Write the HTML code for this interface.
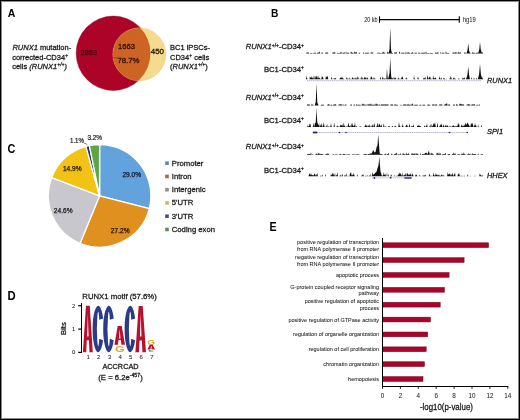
<!DOCTYPE html>
<html><head><meta charset="utf-8"><style>
html,body{margin:0;padding:0;background:#fff;width:520px;height:420px;overflow:hidden}
svg{display:block;will-change:transform}
text{font-family:"Liberation Sans", sans-serif}
.k{stroke:#1a1a1a;stroke-width:.28px}
</style></head><body>
<svg width="520" height="420" viewBox="0 0 520 420">
<rect width="520" height="420" fill="#fff"/>
<rect x="0.5" y="0.5" width="519" height="419" fill="none" stroke="#000" stroke-width="1"/>
<rect x="1.5" y="1.5" width="517" height="417" fill="none" stroke="#000" stroke-opacity="0.45" stroke-width="1"/>
<text transform="translate(7.78,16.8) scale(0.97,1)" font-size="10.9" font-weight="bold" fill="#000">A</text>
<text transform="translate(271.0,17.2) scale(0.87,1)" font-size="11.8" font-weight="bold" fill="#000">B</text>
<text transform="translate(7.6,152.5) scale(0.905,1)" font-size="12.0" font-weight="bold" fill="#000">C</text>
<text transform="translate(7.5,300.2) scale(0.95,1)" font-size="11.9" font-weight="bold" fill="#000">D</text>
<text transform="translate(269.5,230.6) scale(0.865,1)" font-size="12.4" font-weight="bold" fill="#000">E</text>
<circle cx="113.3" cy="53.25" r="37.15" fill="#AD0329" stroke="#8a0020" stroke-width="0.5"/>
<circle cx="139.3" cy="54.3" r="26.4" fill="#F4DB8E" stroke="#e8c070" stroke-width="0.5"/>
<clipPath id="cr"><circle cx="113.3" cy="53.25" r="37.15"/></clipPath>
<circle cx="139.3" cy="54.3" r="26.4" fill="#CE6424" clip-path="url(#cr)"/>
<line x1="113" y1="57.8" x2="118" y2="57.8" stroke="#5a2a10" stroke-width="0.5"/>
<text x="80.5" y="55.4" font-size="7.5" text-anchor="start" font-weight="normal" font-style="normal" fill="#480010" stroke="#480010" stroke-width="0.3" >2863</text>
<text x="126.5" y="48.8" font-size="7.6" text-anchor="middle" font-weight="normal" font-style="normal" fill="#301000" stroke="#301000" stroke-width="0.3" >1663</text>
<text x="128.5" y="63.4" font-size="7.8" text-anchor="middle" font-weight="normal" font-style="normal" fill="#301000" stroke="#301000" stroke-width="0.3" >78.7%</text>
<text x="150.8" y="53.6" font-size="7.9" text-anchor="start" font-weight="normal" font-style="normal" fill="#241800" stroke="#241800" stroke-width="0.3" >450</text>
<text class="k" x="12.4" y="50.4" font-size="7.5" fill="#1a1a1a"><tspan font-style="italic">RUNX1</tspan> mutation-</text>
<text class="k" x="12.2" y="59.7" font-size="7.5" fill="#1a1a1a">corrected-CD34<tspan font-size="5.10" dy="-2.8">+</tspan></text>
<text class="k" x="12.2" y="68.9" font-size="7.5" fill="#1a1a1a">cells <tspan font-style="italic">(RUNX1</tspan><tspan font-style="italic" font-size="5.10" dy="-2.8">+/+</tspan><tspan font-style="italic" dy="2.8">)</tspan></text>
<text class="k" x="170" y="50.4" font-size="7.5" fill="#1a1a1a">BC1 iPSCs-</text>
<text class="k" x="170" y="59.7" font-size="7.5" fill="#1a1a1a">CD34<tspan font-size="5.10" dy="-2.8">+</tspan><tspan dy="2.8"> cells</tspan></text>
<text class="k" x="170" y="68.9" font-size="7.5" fill="#1a1a1a">(<tspan font-style="italic">RUNX1</tspan><tspan font-style="italic" font-size="5.10" dy="-2.8">+/+</tspan><tspan dy="2.8">)</tspan></text>
<text x="364.2" y="21.9" font-size="6.3" text-anchor="start" font-weight="normal" font-style="normal" fill="#1a1a1a" stroke="#1a1a1a" stroke-width="0.04" textLength="13.5" lengthAdjust="spacingAndGlyphs">20 kb</text>
<text x="462.8" y="21.6" font-size="6.3" text-anchor="start" font-weight="normal" font-style="normal" fill="#1a1a1a" stroke="#1a1a1a" stroke-width="0.04" textLength="13" lengthAdjust="spacingAndGlyphs">hg19</text>
<line x1="379.5" y1="19.6" x2="459.3" y2="19.6" stroke="#000" stroke-width="1.2"/>
<line x1="379.5" y1="16.3" x2="379.5" y2="22.8" stroke="#000" stroke-width="1.1"/>
<line x1="459.3" y1="16.3" x2="459.3" y2="22.8" stroke="#000" stroke-width="1.1"/>
<text class="k" x="304" y="49.3" font-size="7.7" text-anchor="end" fill="#1a1a1a"><tspan font-style="italic">RUNX1</tspan><tspan font-size="4.95" dy="-2.7">+/+</tspan><tspan dy="2.7">-CD34</tspan><tspan font-size="4.95" dy="-2.7">+</tspan></text>
<text class="k" x="304" y="71.9" font-size="7.7" text-anchor="end" fill="#1a1a1a">BC1-CD34<tspan font-size="4.95" dy="-2.7">+</tspan></text>
<text class="k" x="304" y="99.7" font-size="7.7" text-anchor="end" fill="#1a1a1a"><tspan font-style="italic">RUNX1</tspan><tspan font-size="4.95" dy="-2.7">+/+</tspan><tspan dy="2.7">-CD34</tspan><tspan font-size="4.95" dy="-2.7">+</tspan></text>
<text class="k" x="304" y="122.8" font-size="7.7" text-anchor="end" fill="#1a1a1a">BC1-CD34<tspan font-size="4.95" dy="-2.7">+</tspan></text>
<text class="k" x="304" y="149.3" font-size="7.7" text-anchor="end" fill="#1a1a1a"><tspan font-style="italic">RUNX1</tspan><tspan font-size="4.95" dy="-2.7">+/+</tspan><tspan dy="2.7">-CD34</tspan><tspan font-size="4.95" dy="-2.7">+</tspan></text>
<text class="k" x="304" y="172.8" font-size="7.7" text-anchor="end" fill="#1a1a1a">BC1-CD34<tspan font-size="4.95" dy="-2.7">+</tspan></text>
<text x="487" y="83.3" font-size="7.4" text-anchor="start" font-weight="normal" font-style="italic" fill="#1a1a1a" stroke="#1a1a1a" stroke-width="0.28" >RUNX1</text>
<text x="487" y="133.8" font-size="7.4" text-anchor="start" font-weight="normal" font-style="italic" fill="#1a1a1a" stroke="#1a1a1a" stroke-width="0.28" >SPI1</text>
<text x="487" y="178" font-size="7.4" text-anchor="start" font-weight="normal" font-style="italic" fill="#1a1a1a" stroke="#1a1a1a" stroke-width="0.28" >HHEX</text>
<path d="M306,53.5 L306.00,53.50 L306.25,53.50 L306.50,52.56 L306.75,52.56 L307.00,52.56 L307.25,52.56 L307.50,52.56 L307.75,52.56 L308.00,52.56 L308.25,52.56 L308.50,52.56 L308.75,52.56 L309.00,53.50 L309.25,53.50 L309.50,53.50 L309.75,53.50 L310.00,53.50 L310.25,52.93 L310.50,52.93 L310.75,52.93 L311.00,52.93 L311.25,52.93 L311.50,52.93 L311.75,52.93 L312.00,52.93 L312.25,52.93 L312.50,53.50 L312.75,53.50 L313.00,53.50 L313.25,53.50 L313.50,52.85 L313.75,52.85 L314.00,52.85 L314.25,52.85 L314.50,52.85 L314.75,52.85 L315.00,52.85 L315.25,52.85 L315.50,52.85 L315.75,52.85 L316.00,53.50 L316.25,53.50 L316.50,53.50 L316.75,53.50 L317.00,52.82 L317.25,52.82 L317.50,52.82 L317.75,52.82 L318.00,52.82 L318.25,52.82 L318.50,52.63 L318.75,52.16 L319.00,52.44 L319.25,52.47 L319.50,51.59 L319.75,51.77 L320.00,52.65 L320.25,53.50 L320.50,53.50 L320.75,53.50 L321.00,53.50 L321.25,53.50 L321.50,52.54 L321.75,52.54 L322.00,52.54 L322.25,52.54 L322.50,52.54 L322.75,52.54 L323.00,53.50 L323.25,53.50 L323.50,53.50 L323.75,53.50 L324.00,53.50 L324.25,53.50 L324.50,53.50 L324.75,53.50 L325.00,53.50 L325.25,52.65 L325.50,52.65 L325.75,52.65 L326.00,52.65 L326.25,52.65 L326.50,52.65 L326.75,51.75 L327.00,52.42 L327.25,52.81 L327.50,52.37 L327.75,52.46 L328.00,52.90 L328.25,53.33 L328.50,53.50 L328.75,53.50 L329.00,53.50 L329.25,53.50 L329.50,53.50 L329.75,53.50 L330.00,53.50 L330.25,53.50 L330.50,53.50 L330.75,53.50 L331.00,53.50 L331.25,53.50 L331.50,53.50 L331.75,53.50 L332.00,53.50 L332.25,53.50 L332.50,52.59 L332.75,52.59 L333.00,52.59 L333.25,52.59 L333.50,52.59 L333.75,52.59 L334.00,52.59 L334.25,52.59 L334.50,52.55 L334.75,52.03 L335.00,52.34 L335.25,52.86 L335.50,53.38 L335.75,53.50 L336.00,53.50 L336.25,53.50 L336.50,53.50 L336.75,53.50 L337.00,53.50 L337.25,52.93 L337.50,52.93 L337.75,52.93 L338.00,52.93 L338.25,52.93 L338.50,52.93 L338.75,52.93 L339.00,52.93 L339.25,52.93 L339.50,52.93 L339.75,52.93 L340.00,53.32 L340.25,52.10 L340.50,51.85 L340.75,53.08 L341.00,52.23 L341.25,51.35 L341.50,52.82 L341.75,53.50 L342.00,53.50 L342.25,53.50 L342.50,52.66 L342.75,52.66 L343.00,52.66 L343.25,52.66 L343.50,52.66 L343.75,52.66 L344.00,52.66 L344.25,52.50 L344.50,52.35 L344.75,52.66 L345.00,53.50 L345.25,53.50 L345.50,53.27 L345.75,52.15 L346.00,51.02 L346.25,52.15 L346.50,53.27 L346.75,53.50 L347.00,52.74 L347.25,52.74 L347.50,52.74 L347.75,52.74 L348.00,52.74 L348.25,52.74 L348.50,52.74 L348.75,52.74 L349.00,52.74 L349.25,53.50 L349.50,53.50 L349.75,53.50 L350.00,53.50 L350.25,53.50 L350.50,52.91 L350.75,51.64 L351.00,52.40 L351.25,52.66 L351.50,51.42 L351.75,51.67 L352.00,52.74 L352.25,52.74 L352.50,52.74 L352.75,52.74 L353.00,52.74 L353.25,52.74 L353.50,53.50 L353.75,53.50 L354.00,52.55 L354.25,52.55 L354.50,51.97 L354.75,51.18 L355.00,51.65 L355.25,52.44 L355.50,52.55 L355.75,52.55 L356.00,52.55 L356.25,52.35 L356.50,52.23 L356.75,52.55 L357.00,52.55 L357.25,53.50 L357.50,53.50 L357.75,53.50 L358.00,53.50 L358.25,53.50 L358.50,53.50 L358.75,52.74 L359.00,52.74 L359.25,52.74 L359.50,52.74 L359.75,52.74 L360.00,52.74 L360.25,53.50 L360.50,53.50 L360.75,53.50 L361.00,53.50 L361.25,53.50 L361.50,53.50 L361.75,53.50 L362.00,53.50 L362.25,53.50 L362.50,53.50 L362.75,53.50 L363.00,53.17 L363.25,52.74 L363.50,52.31 L363.75,52.40 L364.00,52.83 L364.25,53.25 L364.50,53.50 L364.75,53.50 L365.00,53.50 L365.25,52.71 L365.50,52.71 L365.75,52.71 L366.00,52.71 L366.25,52.71 L366.50,52.71 L366.75,52.71 L367.00,52.71 L367.25,52.71 L367.50,52.71 L367.75,52.71 L368.00,52.71 L368.25,52.71 L368.50,52.71 L368.75,52.71 L369.00,52.71 L369.25,53.50 L369.50,53.50 L369.75,53.50 L370.00,53.50 L370.25,53.50 L370.50,53.50 L370.75,52.56 L371.00,52.56 L371.25,52.56 L371.50,52.56 L371.75,52.56 L372.00,52.56 L372.25,52.56 L372.50,52.56 L372.75,52.56 L373.00,52.56 L373.25,53.50 L373.50,53.50 L373.75,53.50 L374.00,53.50 L374.25,53.50 L374.50,53.50 L374.75,53.50 L375.00,53.50 L375.25,53.50 L375.50,53.50 L375.75,53.50 L376.00,53.50 L376.25,53.50 L376.50,53.50 L376.75,53.50 L377.00,52.68 L377.25,52.14 L377.50,53.04 L377.75,53.50 L378.00,53.50 L378.25,53.29 L378.50,52.79 L378.75,52.29 L379.00,52.59 L379.25,53.09 L379.50,52.92 L379.75,52.92 L380.00,52.92 L380.25,52.92 L380.50,52.92 L380.75,52.92 L381.00,52.92 L381.25,52.92 L381.50,52.92 L381.75,53.50 L382.00,53.50 L382.25,53.05 L382.50,52.39 L382.75,51.73 L383.00,52.13 L383.25,52.79 L383.50,51.51 L383.75,51.78 L384.00,52.74 L384.25,52.74 L384.50,52.74 L384.75,52.74 L385.00,52.74 L385.25,52.74 L385.50,53.50 L385.75,53.50 L386.00,53.50 L386.25,53.50 L386.50,53.50 L386.75,53.50 L387.00,52.72 L387.25,52.46 L387.50,51.83 L387.75,51.96 L388.00,52.58 L388.25,52.72 L388.50,52.72 L388.75,52.56 L389.00,51.38 L389.25,50.21 L389.50,49.03 L389.75,41.81 L390.00,34.51 L390.25,27.20 L390.50,34.51 L390.75,41.81 L391.00,49.03 L391.25,50.21 L391.50,51.38 L391.75,52.56 L392.00,52.93 L392.25,52.93 L392.50,52.93 L392.75,52.93 L393.00,52.93 L393.25,53.50 L393.50,53.50 L393.75,53.50 L394.00,53.50 L394.25,52.60 L394.50,52.60 L394.75,52.60 L395.00,52.60 L395.25,52.60 L395.50,52.60 L395.75,52.60 L396.00,52.60 L396.25,52.28 L396.50,52.08 L396.75,52.60 L397.00,53.50 L397.25,53.50 L397.50,53.50 L397.75,53.50 L398.00,53.50 L398.25,53.50 L398.50,53.50 L398.75,53.50 L399.00,53.07 L399.25,52.18 L399.50,51.30 L399.75,51.48 L400.00,52.36 L400.25,53.24 L400.50,53.50 L400.75,53.50 L401.00,53.50 L401.25,52.67 L401.50,52.67 L401.75,52.67 L402.00,52.67 L402.25,52.67 L402.50,52.67 L402.75,52.67 L403.00,52.67 L403.25,52.67 L403.50,52.67 L403.75,52.67 L404.00,52.67 L404.25,52.67 L404.50,52.67 L404.75,53.50 L405.00,53.50 L405.25,52.64 L405.50,52.64 L405.75,52.44 L406.00,51.60 L406.25,52.44 L406.50,53.28 L406.75,53.50 L407.00,53.50 L407.25,52.80 L407.50,52.30 L407.75,52.47 L408.00,52.80 L408.25,52.36 L408.50,52.26 L408.75,52.75 L409.00,52.80 L409.25,52.80 L409.50,52.80 L409.75,52.80 L410.00,52.80 L410.25,53.50 L410.50,53.50 L410.75,53.50 L411.00,52.87 L411.25,52.87 L411.50,52.87 L411.75,52.87 L412.00,52.85 L412.25,52.04 L412.50,51.88 L412.75,52.69 L413.00,52.87 L413.25,52.87 L413.50,53.50 L413.75,53.50 L414.00,53.50 L414.25,53.50 L414.50,52.81 L414.75,52.81 L415.00,52.81 L415.25,52.81 L415.50,52.81 L415.75,52.81 L416.00,52.81 L416.25,52.81 L416.50,52.81 L416.75,52.81 L417.00,53.50 L417.25,53.50 L417.50,53.50 L417.75,53.50 L418.00,53.50 L418.25,52.77 L418.50,52.77 L418.75,52.77 L419.00,52.77 L419.25,52.77 L419.50,52.77 L419.75,52.77 L420.00,52.77 L420.25,52.77 L420.50,53.50 L420.75,53.50 L421.00,53.50 L421.25,52.74 L421.50,52.74 L421.75,52.74 L422.00,52.74 L422.25,52.74 L422.50,52.74 L422.75,52.74 L423.00,52.74 L423.25,52.74 L423.50,52.74 L423.75,52.74 L424.00,52.74 L424.25,52.52 L424.50,52.41 L424.75,52.74 L425.00,53.49 L425.25,53.49 L425.50,52.74 L425.75,51.98 L426.00,51.23 L426.25,51.98 L426.50,52.74 L426.75,52.93 L427.00,52.93 L427.25,52.93 L427.50,52.93 L427.75,52.93 L428.00,52.93 L428.25,52.93 L428.50,52.93 L428.75,52.93 L429.00,52.93 L429.25,52.93 L429.50,53.50 L429.75,53.50 L430.00,52.88 L430.25,52.88 L430.50,52.88 L430.75,52.88 L431.00,52.88 L431.25,52.88 L431.50,52.88 L431.75,52.88 L432.00,52.88 L432.25,52.88 L432.50,52.88 L432.75,52.88 L433.00,53.50 L433.25,53.50 L433.50,53.50 L433.75,53.50 L434.00,53.50 L434.25,53.50 L434.50,53.50 L434.75,53.50 L435.00,52.85 L435.25,52.85 L435.50,52.27 L435.75,52.43 L436.00,52.85 L436.25,52.85 L436.50,52.85 L436.75,52.85 L437.00,52.85 L437.25,52.85 L437.50,52.85 L437.75,52.13 L438.00,51.35 L438.25,52.13 L438.50,52.91 L438.75,53.50 L439.00,53.50 L439.25,53.50 L439.50,53.50 L439.75,53.50 L440.00,53.41 L440.25,52.08 L440.50,51.81 L440.75,53.15 L441.00,53.50 L441.25,53.50 L441.50,53.50 L441.75,52.78 L442.00,52.78 L442.25,52.78 L442.50,52.78 L442.75,52.78 L443.00,52.78 L443.25,52.78 L443.50,52.78 L443.75,52.78 L444.00,52.78 L444.25,52.78 L444.50,53.50 L444.75,53.50 L445.00,53.50 L445.25,53.50 L445.50,52.77 L445.75,51.99 L446.00,51.21 L446.25,51.99 L446.50,52.77 L446.75,52.92 L447.00,52.92 L447.25,52.92 L447.50,52.92 L447.75,52.92 L448.00,52.92 L448.25,52.92 L448.50,52.92 L448.75,52.92 L449.00,52.92 L449.25,53.50 L449.50,53.50 L449.75,53.50 L450.00,53.50 L450.25,53.50 L450.50,53.50 L450.75,53.50 L451.00,53.50 L451.25,53.50 L451.50,53.50 L451.75,53.50 L452.00,53.50 L452.25,53.50 L452.50,52.82 L452.75,52.82 L453.00,52.58 L453.25,52.03 L453.50,52.82 L453.75,52.82 L454.00,52.82 L454.25,52.82 L454.50,52.82 L454.75,52.82 L455.00,52.82 L455.25,52.73 L455.50,51.82 L455.75,52.00 L456.00,52.91 L456.25,52.37 L456.50,52.21 L456.75,53.02 L457.00,53.50 L457.25,53.50 L457.50,53.31 L457.75,52.67 L458.00,52.03 L458.25,52.67 L458.50,52.39 L458.75,51.58 L459.00,52.07 L459.25,52.84 L459.50,52.84 L459.75,52.84 L460.00,52.84 L460.25,52.29 L460.50,52.17 L460.75,52.81 L461.00,53.46 L461.25,53.50 L461.50,53.50 L461.75,53.50 L462.00,53.50 L462.25,53.50 L462.50,53.50 L462.75,53.50 L463.00,53.50 L463.25,53.50 L463.50,53.50 L463.75,53.50 L464.00,53.50 L464.25,52.59 L464.50,52.59 L464.75,52.59 L465.00,52.59 L465.25,52.59 L465.50,52.59 L465.75,53.50 L466.00,53.50 L466.25,53.50 L466.50,53.11 L466.75,52.45 L467.00,51.79 L467.25,51.13 L467.50,49.75 L467.75,47.67 L468.00,45.58 L468.25,43.50 L468.50,45.58 L468.75,47.67 L469.00,49.75 L469.25,51.13 L469.50,51.79 L469.75,52.45 L470.00,52.79 L470.25,52.79 L470.50,52.79 L470.75,53.50 L471.00,53.50 L471.25,53.50 L471.50,53.50 L471.75,53.50 L472.00,52.77 L472.25,52.33 L472.50,52.14 L472.75,52.77 L473.00,52.77 L473.25,52.77 L473.50,52.77 L473.75,52.77 L474.00,52.77 L474.25,52.77 L474.50,52.77 L474.75,52.77 L475.00,53.50 L475.25,53.50 L475.50,53.50 L475.75,52.82 L476.00,52.82 L476.25,52.82 L476.50,52.82 L476.75,52.82 L477.00,52.82 L477.25,52.82 L477.50,52.82 L477.75,52.82 L478.00,52.82 L478.25,52.75 L478.50,52.00 L478.75,51.25 L479.00,50.50 L479.25,49.19 L479.50,46.79 L479.75,44.40 L480.00,42.00 L480.25,44.40 L480.50,46.79 L480.75,49.19 L481.00,50.50 L481.25,51.25 L481.50,52.00 L481.75,52.58 L482.00,52.58 L482.25,52.58 L482.50,52.58 L482.75,52.25 L483.00,52.58 L483,53.5 Z" fill="#111"/>
<path d="M306,79.2 L306.00,74.86 L306.25,76.29 L306.50,77.72 L306.75,77.67 L307.00,78.05 L307.25,78.68 L307.50,79.20 L307.75,79.20 L308.00,79.20 L308.25,79.20 L308.50,79.20 L308.75,79.20 L309.00,79.20 L309.25,79.20 L309.50,79.16 L309.75,77.47 L310.00,75.78 L310.25,77.47 L310.50,78.02 L310.75,76.86 L311.00,77.56 L311.25,78.17 L311.50,75.97 L311.75,76.41 L312.00,78.16 L312.25,77.49 L312.50,77.35 L312.75,78.02 L313.00,78.69 L313.25,79.20 L313.50,77.80 L313.75,76.40 L314.00,74.99 L314.25,76.40 L314.50,77.80 L314.75,79.20 L315.00,79.20 L315.25,77.93 L315.50,76.09 L315.75,76.46 L316.00,77.24 L316.25,75.77 L316.50,75.47 L316.75,76.94 L317.00,76.96 L317.25,75.37 L317.50,78.03 L317.75,78.62 L318.00,77.95 L318.25,78.62 L318.50,77.61 L318.75,75.79 L319.00,76.88 L319.25,78.58 L319.50,77.69 L319.75,77.87 L320.00,78.76 L320.25,79.20 L320.50,78.66 L320.75,78.66 L321.00,78.66 L321.25,78.66 L321.50,78.52 L321.75,77.03 L322.00,75.53 L322.25,77.03 L322.50,77.51 L322.75,76.34 L323.00,77.04 L323.25,78.21 L323.50,79.20 L323.75,79.20 L324.00,79.20 L324.25,79.20 L324.50,79.20 L324.75,79.20 L325.00,79.20 L325.25,79.20 L325.50,78.85 L325.75,77.29 L326.00,75.72 L326.25,77.29 L326.50,77.48 L326.75,76.36 L327.00,77.03 L327.25,77.33 L327.50,75.43 L327.75,75.81 L328.00,77.71 L328.25,79.20 L328.50,79.20 L328.75,79.20 L329.00,79.20 L329.25,79.20 L329.50,79.20 L329.75,79.20 L330.00,79.20 L330.25,79.20 L330.50,79.20 L330.75,79.20 L331.00,79.02 L331.25,77.99 L331.50,76.95 L331.75,77.16 L332.00,78.19 L332.25,78.57 L332.50,79.20 L332.75,79.20 L333.00,79.20 L333.25,79.20 L333.50,79.20 L333.75,78.58 L334.00,77.78 L334.25,78.58 L334.50,78.84 L334.75,77.97 L335.00,78.49 L335.25,78.43 L335.50,77.83 L335.75,77.95 L336.00,78.55 L336.25,79.14 L336.50,79.20 L336.75,79.20 L337.00,79.20 L337.25,79.20 L337.50,79.20 L337.75,79.20 L338.00,79.20 L338.25,79.20 L338.50,79.20 L338.75,79.20 L339.00,79.20 L339.25,79.20 L339.50,78.65 L339.75,78.65 L340.00,78.23 L340.25,77.57 L340.50,77.44 L340.75,78.10 L341.00,77.81 L341.25,77.39 L341.50,78.09 L341.75,77.54 L342.00,76.04 L342.25,77.54 L342.50,78.39 L342.75,77.80 L343.00,78.16 L343.25,78.66 L343.50,78.66 L343.75,78.66 L344.00,78.66 L344.25,79.20 L344.50,79.20 L344.75,79.20 L345.00,79.20 L345.25,79.20 L345.50,79.20 L345.75,79.20 L346.00,79.20 L346.25,78.55 L346.50,77.81 L346.75,77.07 L347.00,77.52 L347.25,78.26 L347.50,78.73 L347.75,78.73 L348.00,79.20 L348.25,79.20 L348.50,79.20 L348.75,78.71 L349.00,77.86 L349.25,77.35 L349.50,78.20 L349.75,79.05 L350.00,79.20 L350.25,79.20 L350.50,78.68 L350.75,78.68 L351.00,78.68 L351.25,79.20 L351.50,79.20 L351.75,78.87 L352.00,78.01 L352.25,77.14 L352.50,76.97 L352.75,77.84 L353.00,78.70 L353.25,79.20 L353.50,78.72 L353.75,78.03 L354.00,77.30 L354.25,78.03 L354.50,78.72 L354.75,79.20 L355.00,79.20 L355.25,78.45 L355.50,77.54 L355.75,77.72 L356.00,78.64 L356.25,78.64 L356.50,78.64 L356.75,77.87 L357.00,76.86 L357.25,76.25 L357.50,77.26 L357.75,78.27 L358.00,79.20 L358.25,79.20 L358.50,78.33 L358.75,76.80 L359.00,77.72 L359.25,79.20 L359.50,79.20 L359.75,79.20 L360.00,79.20 L360.25,79.20 L360.50,79.20 L360.75,78.26 L361.00,77.02 L361.25,76.28 L361.50,77.52 L361.75,78.67 L362.00,78.67 L362.25,78.67 L362.50,78.17 L362.75,77.10 L363.00,77.74 L363.25,78.81 L363.50,79.20 L363.75,79.20 L364.00,78.27 L364.25,77.00 L364.50,76.74 L364.75,78.01 L365.00,77.72 L365.25,76.93 L365.50,78.24 L365.75,77.93 L366.00,76.84 L366.25,77.93 L366.50,79.03 L366.75,78.55 L367.00,78.55 L367.25,78.19 L367.50,77.38 L367.75,77.54 L368.00,78.35 L368.25,79.16 L368.50,79.20 L368.75,79.20 L369.00,79.20 L369.25,78.77 L369.50,78.77 L369.75,79.20 L370.00,79.20 L370.25,79.20 L370.50,78.23 L370.75,76.50 L371.00,77.54 L371.25,77.28 L371.50,76.20 L371.75,76.42 L372.00,77.49 L372.25,78.57 L372.50,79.20 L372.75,78.92 L373.00,77.80 L373.25,77.13 L373.50,78.25 L373.75,79.20 L374.00,79.20 L374.25,78.94 L374.50,78.34 L374.75,77.73 L375.00,78.09 L375.25,78.68 L375.50,79.20 L375.75,79.20 L376.00,79.20 L376.25,79.20 L376.50,79.20 L376.75,79.20 L377.00,79.20 L377.25,79.20 L377.50,79.20 L377.75,79.20 L378.00,79.20 L378.25,79.20 L378.50,79.20 L378.75,79.20 L379.00,79.20 L379.25,79.20 L379.50,79.20 L379.75,79.20 L380.00,78.47 L380.25,77.21 L380.50,76.96 L380.75,78.22 L381.00,78.64 L381.25,78.64 L381.50,79.20 L381.75,79.20 L382.00,79.20 L382.25,78.57 L382.50,77.45 L382.75,76.33 L383.00,77.00 L383.25,78.12 L383.50,79.20 L383.75,78.51 L384.00,78.51 L384.25,78.51 L384.50,78.51 L384.75,78.51 L385.00,78.51 L385.25,78.51 L385.50,78.51 L385.75,79.20 L386.00,79.20 L386.25,79.20 L386.50,76.06 L386.75,72.13 L387.00,68.20 L387.25,72.13 L387.50,76.06 L387.75,78.70 L388.00,78.70 L388.25,78.57 L388.50,77.52 L388.75,76.46 L389.00,75.41 L389.25,74.36 L389.50,73.31 L389.75,68.45 L390.00,63.08 L390.25,57.70 L390.50,63.08 L390.75,68.45 L391.00,73.83 L391.25,76.46 L391.50,77.52 L391.75,78.28 L392.00,78.57 L392.25,78.02 L392.50,77.82 L392.75,78.57 L393.00,79.20 L393.25,79.20 L393.50,78.55 L393.75,77.39 L394.00,76.23 L394.25,77.39 L394.50,78.55 L394.75,78.58 L395.00,78.58 L395.25,78.13 L395.50,77.45 L395.75,77.59 L396.00,78.27 L396.25,78.94 L396.50,79.20 L396.75,79.20 L397.00,79.20 L397.25,79.20 L397.50,78.65 L397.75,78.65 L398.00,78.65 L398.25,78.65 L398.50,78.06 L398.75,77.44 L399.00,77.81 L399.25,78.43 L399.50,79.04 L399.75,79.20 L400.00,79.20 L400.25,79.20 L400.50,79.20 L400.75,78.61 L401.00,78.61 L401.25,78.61 L401.50,78.13 L401.75,77.10 L402.00,76.08 L402.25,77.10 L402.50,77.94 L402.75,76.14 L403.00,77.22 L403.25,79.03 L403.50,79.20 L403.75,79.20 L404.00,79.20 L404.25,79.20 L404.50,79.20 L404.75,79.20 L405.00,79.20 L405.25,79.20 L405.50,78.99 L405.75,78.46 L406.00,77.92 L406.25,78.46 L406.50,78.40 L406.75,76.87 L407.00,77.78 L407.25,79.20 L407.50,79.20 L407.75,79.20 L408.00,79.20 L408.25,79.20 L408.50,79.20 L408.75,79.20 L409.00,79.20 L409.25,79.20 L409.50,79.20 L409.75,79.20 L410.00,79.20 L410.25,79.20 L410.50,79.20 L410.75,79.20 L411.00,79.20 L411.25,79.20 L411.50,79.20 L411.75,79.20 L412.00,79.20 L412.25,79.20 L412.50,79.20 L412.75,79.20 L413.00,79.20 L413.25,79.20 L413.50,79.20 L413.75,77.47 L414.00,74.76 L414.25,77.47 L414.50,78.56 L414.75,78.56 L415.00,78.56 L415.25,79.20 L415.50,79.20 L415.75,79.20 L416.00,79.20 L416.25,79.20 L416.50,79.20 L416.75,79.20 L417.00,79.20 L417.25,79.20 L417.50,78.39 L417.75,77.46 L418.00,76.53 L418.25,77.46 L418.50,78.39 L418.75,78.51 L419.00,79.20 L419.25,79.20 L419.50,79.20 L419.75,79.20 L420.00,79.20 L420.25,79.20 L420.50,79.20 L420.75,79.20 L421.00,79.20 L421.25,79.20 L421.50,79.20 L421.75,79.20 L422.00,79.20 L422.25,79.20 L422.50,79.20 L422.75,79.20 L423.00,79.20 L423.25,78.77 L423.50,77.48 L423.75,77.74 L424.00,78.53 L424.25,78.10 L424.50,78.02 L424.75,78.45 L425.00,77.32 L425.25,76.20 L425.50,78.06 L425.75,78.67 L426.00,79.20 L426.25,79.20 L426.50,79.20 L426.75,79.20 L427.00,78.39 L427.25,76.99 L427.50,75.59 L427.75,75.87 L428.00,77.27 L428.25,78.67 L428.50,79.20 L428.75,78.35 L429.00,77.35 L429.25,76.75 L429.50,77.75 L429.75,77.14 L430.00,75.95 L430.25,77.14 L430.50,78.34 L430.75,78.74 L431.00,78.74 L431.25,78.74 L431.50,78.74 L431.75,79.20 L432.00,79.20 L432.25,79.20 L432.50,79.20 L432.75,78.36 L433.00,76.65 L433.25,75.62 L433.50,77.33 L433.75,78.42 L434.00,77.93 L434.25,78.42 L434.50,78.44 L434.75,77.79 L435.00,78.18 L435.25,78.15 L435.50,77.21 L435.75,77.40 L436.00,78.34 L436.25,78.68 L436.50,79.20 L436.75,79.20 L437.00,79.20 L437.25,79.20 L437.50,79.20 L437.75,79.20 L438.00,79.20 L438.25,79.20 L438.50,79.20 L438.75,78.69 L439.00,78.69 L439.25,77.93 L439.50,76.13 L439.75,76.49 L440.00,78.29 L440.25,79.20 L440.50,79.02 L440.75,78.38 L441.00,77.75 L441.25,77.37 L441.50,78.00 L441.75,78.64 L442.00,79.20 L442.25,79.20 L442.50,79.20 L442.75,79.20 L443.00,78.90 L443.25,78.48 L443.50,78.07 L443.75,78.15 L444.00,78.56 L444.25,78.14 L444.50,78.02 L444.75,78.64 L445.00,79.20 L445.25,79.20 L445.50,79.20 L445.75,78.65 L446.00,78.65 L446.25,78.65 L446.50,78.65 L446.75,79.20 L447.00,79.20 L447.25,79.20 L447.50,79.20 L447.75,79.20 L448.00,79.20 L448.25,79.20 L448.50,79.20 L448.75,79.20 L449.00,79.20 L449.25,79.20 L449.50,78.50 L449.75,78.50 L450.00,78.50 L450.25,78.26 L450.50,77.09 L450.75,75.93 L451.00,76.63 L451.25,77.79 L451.50,78.72 L451.75,78.72 L452.00,78.72 L452.25,79.20 L452.50,79.20 L452.75,79.20 L453.00,78.41 L453.25,77.88 L453.50,78.45 L453.75,77.73 L454.00,77.00 L454.25,77.73 L454.50,78.45 L454.75,78.63 L455.00,78.63 L455.25,78.63 L455.50,78.63 L455.75,78.63 L456.00,79.20 L456.25,79.20 L456.50,79.20 L456.75,79.20 L457.00,79.20 L457.25,79.20 L457.50,79.20 L457.75,79.20 L458.00,79.20 L458.25,78.60 L458.50,78.60 L458.75,78.60 L459.00,78.60 L459.25,78.60 L459.50,79.20 L459.75,79.20 L460.00,79.20 L460.25,79.20 L460.50,79.20 L460.75,79.20 L461.00,79.20 L461.25,79.20 L461.50,79.20 L461.75,79.20 L462.00,79.20 L462.25,78.52 L462.50,78.15 L462.75,77.21 L463.00,77.78 L463.25,78.65 L463.50,78.01 L463.75,78.14 L464.00,78.56 L464.25,77.34 L464.50,77.10 L464.75,78.32 L465.00,79.20 L465.25,79.20 L465.50,79.20 L465.75,79.20 L466.00,78.55 L466.25,78.45 L466.50,77.70 L466.75,76.95 L467.00,76.20 L467.25,75.45 L467.50,74.33 L467.75,71.62 L468.00,68.91 L468.25,66.20 L468.50,68.91 L468.75,71.62 L469.00,74.33 L469.25,75.93 L469.50,77.07 L469.75,78.21 L470.00,79.20 L470.25,79.20 L470.50,79.20 L470.75,79.20 L471.00,79.20 L471.25,78.61 L471.50,77.34 L471.75,77.60 L472.00,78.86 L472.25,79.20 L472.50,79.20 L472.75,79.20 L473.00,79.20 L473.25,79.20 L473.50,78.78 L473.75,78.22 L474.00,77.67 L474.25,78.22 L474.50,78.78 L474.75,79.20 L475.00,79.20 L475.25,79.20 L475.50,79.20 L475.75,79.02 L476.00,78.65 L476.25,78.28 L476.50,78.21 L476.75,78.58 L477.00,78.69 L477.25,79.20 L477.50,79.20 L477.75,79.20 L478.00,78.47 L478.25,77.56 L478.50,76.65 L478.75,75.75 L479.00,74.84 L479.25,72.64 L479.50,69.66 L479.75,66.68 L480.00,63.70 L480.25,66.68 L480.50,69.66 L480.75,72.64 L481.00,74.84 L481.25,75.75 L481.50,76.65 L481.75,77.56 L482.00,75.98 L482.25,77.58 L482.50,78.65 L482.75,77.99 L483.00,78.39 L483,79.2 Z" fill="#111"/>
<line x1="307" y1="80.7" x2="481" y2="80.7" stroke="#A2A2C8" stroke-width="0.8" stroke-dasharray="1.4 0.5"/>
<path d="M307,105.4 L307.00,104.57 L307.25,104.57 L307.50,104.57 L307.75,104.57 L308.00,104.57 L308.25,104.57 L308.50,104.57 L308.75,104.57 L309.00,104.57 L309.25,104.57 L309.50,104.57 L309.75,104.57 L310.00,105.40 L310.25,105.40 L310.50,105.40 L310.75,105.40 L311.00,105.40 L311.25,105.40 L311.50,104.59 L311.75,103.40 L312.00,104.11 L312.25,105.31 L312.50,104.49 L312.75,104.49 L313.00,104.49 L313.25,104.49 L313.50,105.40 L313.75,105.40 L314.00,105.40 L314.25,105.40 L314.50,105.40 L314.75,105.23 L315.00,104.40 L315.25,103.57 L315.50,102.73 L315.75,101.70 L316.00,95.53 L316.25,89.37 L316.50,83.20 L316.75,89.37 L317.00,95.53 L317.25,101.70 L317.50,102.73 L317.75,103.57 L318.00,104.40 L318.25,104.55 L318.50,105.40 L318.75,105.40 L319.00,105.40 L319.25,105.40 L319.50,105.40 L319.75,105.40 L320.00,105.40 L320.25,105.40 L320.50,105.40 L320.75,105.40 L321.00,104.66 L321.25,104.66 L321.50,104.66 L321.75,104.66 L322.00,104.66 L322.25,104.66 L322.50,104.66 L322.75,104.66 L323.00,104.66 L323.25,104.66 L323.50,104.66 L323.75,104.66 L324.00,104.66 L324.25,105.40 L324.50,105.40 L324.75,105.40 L325.00,105.40 L325.25,105.40 L325.50,105.40 L325.75,105.40 L326.00,105.40 L326.25,105.40 L326.50,105.40 L326.75,105.40 L327.00,105.40 L327.25,105.40 L327.50,104.45 L327.75,104.45 L328.00,104.45 L328.25,104.45 L328.50,103.97 L328.75,104.08 L329.00,104.63 L329.25,104.52 L329.50,104.40 L329.75,105.01 L330.00,105.40 L330.25,105.40 L330.50,104.64 L330.75,104.64 L331.00,104.64 L331.25,104.64 L331.50,104.64 L331.75,104.64 L332.00,104.64 L332.25,105.40 L332.50,105.40 L332.75,105.40 L333.00,105.29 L333.25,104.72 L333.50,104.61 L333.75,104.61 L334.00,104.61 L334.25,104.42 L334.50,104.61 L334.75,104.61 L335.00,104.61 L335.25,104.61 L335.50,104.61 L335.75,103.96 L336.00,104.41 L336.25,105.17 L336.50,105.40 L336.75,105.40 L337.00,105.40 L337.25,105.40 L337.50,105.40 L337.75,105.40 L338.00,105.40 L338.25,105.40 L338.50,105.40 L338.75,104.50 L339.00,104.50 L339.25,104.50 L339.50,104.50 L339.75,104.50 L340.00,104.50 L340.25,104.50 L340.50,104.11 L340.75,104.29 L341.00,104.50 L341.25,104.50 L341.50,104.50 L341.75,104.50 L342.00,104.50 L342.25,104.50 L342.50,105.40 L342.75,105.40 L343.00,105.40 L343.25,105.40 L343.50,104.74 L343.75,104.08 L344.00,104.48 L344.25,105.14 L344.50,105.40 L344.75,105.40 L345.00,104.50 L345.25,104.50 L345.50,104.50 L345.75,104.50 L346.00,104.50 L346.25,104.50 L346.50,105.40 L346.75,105.40 L347.00,105.40 L347.25,105.40 L347.50,105.40 L347.75,105.40 L348.00,105.40 L348.25,105.40 L348.50,105.40 L348.75,105.40 L349.00,105.40 L349.25,105.40 L349.50,105.40 L349.75,105.40 L350.00,105.40 L350.25,105.40 L350.50,104.51 L350.75,104.51 L351.00,104.51 L351.25,104.51 L351.50,104.51 L351.75,104.51 L352.00,105.40 L352.25,105.40 L352.50,105.40 L352.75,105.40 L353.00,105.40 L353.25,105.40 L353.50,105.40 L353.75,104.50 L354.00,104.50 L354.25,104.50 L354.50,104.50 L354.75,104.50 L355.00,105.40 L355.25,105.40 L355.50,105.40 L355.75,105.40 L356.00,105.40 L356.25,104.71 L356.50,103.92 L356.75,104.08 L357.00,104.86 L357.25,105.40 L357.50,104.68 L357.75,104.68 L358.00,104.68 L358.25,104.68 L358.50,104.68 L358.75,104.68 L359.00,104.68 L359.25,104.68 L359.50,104.68 L359.75,104.68 L360.00,104.68 L360.25,104.68 L360.50,104.68 L360.75,105.40 L361.00,105.40 L361.25,105.40 L361.50,105.40 L361.75,104.49 L362.00,104.49 L362.25,104.49 L362.50,104.49 L362.75,103.94 L363.00,103.06 L363.25,103.94 L363.50,104.49 L363.75,104.49 L364.00,104.49 L364.25,104.49 L364.50,104.49 L364.75,104.49 L365.00,105.40 L365.25,105.40 L365.50,104.55 L365.75,104.55 L366.00,104.55 L366.25,104.55 L366.50,104.55 L366.75,105.40 L367.00,105.40 L367.25,105.40 L367.50,104.89 L367.75,103.63 L368.00,104.38 L368.25,105.03 L368.50,103.66 L368.75,103.94 L369.00,104.77 L369.25,104.33 L369.50,104.24 L369.75,104.68 L370.00,104.50 L370.25,104.25 L370.50,104.67 L370.75,103.91 L371.00,103.02 L371.25,103.91 L371.50,104.72 L371.75,104.72 L372.00,104.72 L372.25,104.72 L372.50,104.72 L372.75,104.72 L373.00,104.72 L373.25,104.72 L373.50,104.72 L373.75,104.72 L374.00,104.72 L374.25,105.40 L374.50,105.01 L374.75,104.07 L375.00,103.13 L375.25,104.07 L375.50,104.76 L375.75,104.76 L376.00,104.89 L376.25,104.17 L376.50,103.44 L376.75,103.59 L377.00,104.31 L377.25,104.14 L377.50,104.01 L377.75,104.67 L378.00,104.82 L378.25,104.82 L378.50,104.82 L378.75,105.40 L379.00,105.40 L379.25,105.18 L379.50,104.60 L379.75,104.03 L380.00,104.37 L380.25,104.95 L380.50,105.40 L380.75,105.40 L381.00,104.48 L381.25,104.48 L381.50,104.48 L381.75,104.48 L382.00,104.48 L382.25,104.48 L382.50,104.48 L382.75,104.48 L383.00,104.48 L383.25,104.48 L383.50,104.48 L383.75,104.48 L384.00,104.48 L384.25,104.48 L384.50,104.48 L384.75,104.48 L385.00,104.64 L385.25,104.16 L385.50,104.06 L385.75,104.54 L386.00,105.03 L386.25,104.58 L386.50,104.58 L386.75,104.58 L387.00,104.58 L387.25,104.58 L387.50,104.58 L387.75,104.58 L388.00,104.58 L388.25,104.58 L388.50,104.58 L388.75,105.40 L389.00,105.40 L389.25,105.40 L389.50,105.40 L389.75,105.40 L390.00,105.40 L390.25,105.40 L390.50,104.46 L390.75,104.46 L391.00,104.46 L391.25,104.46 L391.50,104.46 L391.75,104.46 L392.00,104.46 L392.25,104.46 L392.50,104.46 L392.75,104.46 L393.00,104.46 L393.25,105.40 L393.50,105.40 L393.75,105.40 L394.00,105.40 L394.25,105.36 L394.50,104.79 L394.75,104.23 L395.00,103.66 L395.25,104.23 L395.50,104.74 L395.75,104.74 L396.00,104.74 L396.25,104.74 L396.50,104.74 L396.75,104.74 L397.00,104.74 L397.25,104.74 L397.50,104.74 L397.75,104.74 L398.00,105.40 L398.25,105.40 L398.50,105.40 L398.75,105.40 L399.00,105.40 L399.25,105.40 L399.50,105.40 L399.75,105.40 L400.00,105.40 L400.25,105.40 L400.50,104.67 L400.75,104.67 L401.00,104.67 L401.25,104.67 L401.50,104.67 L401.75,105.40 L402.00,105.40 L402.25,105.40 L402.50,105.40 L402.75,105.40 L403.00,105.40 L403.25,104.59 L403.50,104.59 L403.75,104.59 L404.00,104.59 L404.25,104.59 L404.50,104.59 L404.75,104.59 L405.00,104.59 L405.25,104.59 L405.50,104.59 L405.75,104.59 L406.00,104.59 L406.25,105.40 L406.50,105.40 L406.75,104.57 L407.00,104.57 L407.25,104.57 L407.50,104.57 L407.75,104.57 L408.00,104.57 L408.25,104.57 L408.50,104.57 L408.75,104.57 L409.00,104.57 L409.25,104.48 L409.50,104.38 L409.75,104.90 L410.00,105.40 L410.25,105.40 L410.50,104.83 L410.75,104.50 L411.00,103.70 L411.25,104.50 L411.50,104.83 L411.75,104.83 L412.00,104.83 L412.25,104.34 L412.50,103.25 L412.75,103.47 L413.00,104.56 L413.25,104.83 L413.50,105.40 L413.75,105.40 L414.00,105.40 L414.25,104.74 L414.50,104.74 L414.75,104.74 L415.00,104.74 L415.25,104.74 L415.50,104.74 L415.75,104.74 L416.00,104.74 L416.25,104.74 L416.50,104.74 L416.75,104.74 L417.00,104.74 L417.25,104.74 L417.50,104.74 L417.75,104.74 L418.00,105.40 L418.25,105.40 L418.50,105.40 L418.75,105.40 L419.00,105.40 L419.25,105.40 L419.50,104.69 L419.75,104.69 L420.00,104.69 L420.25,104.69 L420.50,104.69 L420.75,104.69 L421.00,104.69 L421.25,104.69 L421.50,105.40 L421.75,105.40 L422.00,105.40 L422.25,105.40 L422.50,104.72 L422.75,104.72 L423.00,104.72 L423.25,104.72 L423.50,104.72 L423.75,104.72 L424.00,104.72 L424.25,104.72 L424.50,104.72 L424.75,104.72 L425.00,104.72 L425.25,104.72 L425.50,105.40 L425.75,105.40 L426.00,105.40 L426.25,105.40 L426.50,105.40 L426.75,105.40 L427.00,105.40 L427.25,104.72 L427.50,104.72 L427.75,104.72 L428.00,104.72 L428.25,104.72 L428.50,104.23 L428.75,104.39 L429.00,104.72 L429.25,104.72 L429.50,104.72 L429.75,104.72 L430.00,104.72 L430.25,104.72 L430.50,105.40 L430.75,105.40 L431.00,105.40 L431.25,105.40 L431.50,105.40 L431.75,105.40 L432.00,105.40 L432.25,104.56 L432.50,104.56 L432.75,104.56 L433.00,104.56 L433.25,104.56 L433.50,104.56 L433.75,104.56 L434.00,104.56 L434.25,104.56 L434.50,104.56 L434.75,105.40 L435.00,105.40 L435.25,104.51 L435.50,104.51 L435.75,104.39 L436.00,104.51 L436.25,104.51 L436.50,104.51 L436.75,104.51 L437.00,104.51 L437.25,105.40 L437.50,105.40 L437.75,105.40 L438.00,105.40 L438.25,105.40 L438.50,105.40 L438.75,105.40 L439.00,105.40 L439.25,105.34 L439.50,104.49 L439.75,104.12 L440.00,104.49 L440.25,104.49 L440.50,104.49 L440.75,104.49 L441.00,104.49 L441.25,104.49 L441.50,104.49 L441.75,104.49 L442.00,104.49 L442.25,104.49 L442.50,105.40 L442.75,105.40 L443.00,105.40 L443.25,105.40 L443.50,105.40 L443.75,105.40 L444.00,104.63 L444.25,104.63 L444.50,104.63 L444.75,104.63 L445.00,104.63 L445.25,104.17 L445.50,104.05 L445.75,104.40 L446.00,103.60 L446.25,103.12 L446.50,103.92 L446.75,104.03 L447.00,102.88 L447.25,104.03 L447.50,105.17 L447.75,105.40 L448.00,105.40 L448.25,104.52 L448.50,104.52 L448.75,104.52 L449.00,104.52 L449.25,104.52 L449.50,104.52 L449.75,104.52 L450.00,104.52 L450.25,105.40 L450.50,105.40 L450.75,105.40 L451.00,105.40 L451.25,105.40 L451.50,105.40 L451.75,105.40 L452.00,105.40 L452.25,105.40 L452.50,105.40 L452.75,105.40 L453.00,105.40 L453.25,104.52 L453.50,104.52 L453.75,104.52 L454.00,104.52 L454.25,104.52 L454.50,104.52 L454.75,104.52 L455.00,105.40 L455.25,105.40 L455.50,105.40 L455.75,105.40 L456.00,104.67 L456.25,104.67 L456.50,103.86 L456.75,104.03 L457.00,104.67 L457.25,104.67 L457.50,104.67 L457.75,104.67 L458.00,104.67 L458.25,105.40 L458.50,105.40 L458.75,105.40 L459.00,105.40 L459.25,105.09 L459.50,104.33 L459.75,103.56 L460.00,104.02 L460.25,104.34 L460.50,103.50 L460.75,103.67 L461.00,104.49 L461.25,103.90 L461.50,103.66 L461.75,104.49 L462.00,104.49 L462.25,104.49 L462.50,104.49 L462.75,104.49 L463.00,104.49 L463.25,104.49 L463.50,104.49 L463.75,104.49 L464.00,104.49 L464.25,105.40 L464.50,105.40 L464.75,105.40 L465.00,105.40 L465.25,105.40 L465.50,105.40 L465.75,105.40 L466.00,105.40 L466.25,105.40 L466.50,105.40 L466.75,104.47 L467.00,104.47 L467.25,104.47 L467.50,104.47 L467.75,104.47 L468.00,104.47 L468.25,104.45 L468.50,103.77 L468.75,103.91 L469.00,104.47 L469.25,104.47 L469.50,104.47 L469.75,104.47 L470.00,104.47 L470.25,104.47 L470.50,105.40 L470.75,105.40 L471.00,105.40 L471.25,105.40 L471.50,104.57 L471.75,104.57 L472.00,104.57 L472.25,104.57 L472.50,104.57 L472.75,104.57 L473.00,104.57 L473.25,104.57 L473.50,104.57 L473.75,104.57 L474.00,104.26 L474.25,103.68 L474.50,104.57 L474.75,104.57 L475.00,105.40 L475.25,105.40 L475.50,105.40 L475.75,105.40 L476.00,105.40 L476.25,105.40 L476.50,104.75 L476.75,104.75 L477.00,104.75 L477.25,104.75 L477.50,104.75 L477.75,104.75 L478.00,104.75 L478.25,104.75 L478.50,105.40 L478.75,105.40 L479.00,105.40 L479.25,104.52 L479.50,104.52 L479.75,104.52 L480.00,104.52 L480,105.4 Z" fill="#111"/>
<path d="M307,127.0 L307.00,124.28 L307.25,125.42 L307.50,126.57 L307.75,127.00 L308.00,126.36 L308.25,126.36 L308.50,126.36 L308.75,126.36 L309.00,126.13 L309.25,124.67 L309.50,123.00 L309.75,124.67 L310.00,124.13 L310.25,123.41 L310.50,124.61 L310.75,125.82 L311.00,127.00 L311.25,127.00 L311.50,127.00 L311.75,127.00 L312.00,127.00 L312.25,127.00 L312.50,127.00 L312.75,127.00 L313.00,125.46 L313.25,123.39 L313.50,122.98 L313.75,125.04 L314.00,127.00 L314.25,126.30 L314.50,125.60 L314.75,123.96 L315.00,122.33 L315.25,123.50 L315.50,122.80 L315.75,122.10 L316.00,117.50 L316.25,112.75 L316.50,108.00 L316.75,112.75 L317.00,117.50 L317.25,122.10 L317.50,122.80 L317.75,123.50 L318.00,124.20 L318.25,124.90 L318.50,125.60 L318.75,124.38 L319.00,122.19 L319.25,124.38 L319.50,126.57 L319.75,127.00 L320.00,126.31 L320.25,126.26 L320.50,124.16 L320.75,124.58 L321.00,126.25 L321.25,123.63 L321.50,123.00 L321.75,124.67 L322.00,126.33 L322.25,127.00 L322.50,127.00 L322.75,126.07 L323.00,124.60 L323.25,125.76 L323.50,124.05 L323.75,122.34 L324.00,123.37 L324.25,125.08 L324.50,126.78 L324.75,127.00 L325.00,127.00 L325.25,127.00 L325.50,127.00 L325.75,126.40 L326.00,126.40 L326.25,126.40 L326.50,126.40 L326.75,124.97 L327.00,123.51 L327.25,124.97 L327.50,126.43 L327.75,127.00 L328.00,127.00 L328.25,127.00 L328.50,126.34 L328.75,126.34 L329.00,126.34 L329.25,126.34 L329.50,127.00 L329.75,127.00 L330.00,127.00 L330.25,126.50 L330.50,126.03 L330.75,124.61 L331.00,123.19 L331.25,124.61 L331.50,126.03 L331.75,127.00 L332.00,127.00 L332.25,127.00 L332.50,127.00 L332.75,127.00 L333.00,127.00 L333.25,127.00 L333.50,127.00 L333.75,126.02 L334.00,123.84 L334.25,122.53 L334.50,124.71 L334.75,126.89 L335.00,127.00 L335.25,127.00 L335.50,127.00 L335.75,127.00 L336.00,126.39 L336.25,126.39 L336.50,126.39 L336.75,127.00 L337.00,126.48 L337.25,125.48 L337.50,125.28 L337.75,126.28 L338.00,127.00 L338.25,126.48 L338.50,126.48 L338.75,126.48 L339.00,126.48 L339.25,126.48 L339.50,126.48 L339.75,127.00 L340.00,126.51 L340.25,125.55 L340.50,124.58 L340.75,124.78 L341.00,125.74 L341.25,125.21 L341.50,124.86 L341.75,125.87 L342.00,124.63 L342.25,123.89 L342.50,125.13 L342.75,126.37 L343.00,126.35 L343.25,126.23 L343.50,124.31 L343.75,122.38 L344.00,123.54 L344.25,125.46 L344.50,125.72 L344.75,125.81 L345.00,126.27 L345.25,126.74 L345.50,127.00 L345.75,127.00 L346.00,126.53 L346.25,126.53 L346.50,126.53 L346.75,126.53 L347.00,127.00 L347.25,127.00 L347.50,126.37 L347.75,125.59 L348.00,125.98 L348.25,124.36 L348.50,122.74 L348.75,123.06 L349.00,124.68 L349.25,126.31 L349.50,126.31 L349.75,126.31 L350.00,125.68 L350.25,125.05 L350.50,126.09 L350.75,127.00 L351.00,127.00 L351.25,126.21 L351.50,124.58 L351.75,122.96 L352.00,123.94 L352.25,125.45 L352.50,122.96 L352.75,123.46 L353.00,125.95 L353.25,125.80 L353.50,125.59 L353.75,126.63 L354.00,125.63 L354.25,124.81 L354.50,126.18 L354.75,124.34 L355.00,121.83 L355.25,124.34 L355.50,126.84 L355.75,127.00 L356.00,126.29 L356.25,126.29 L356.50,126.29 L356.75,126.29 L357.00,127.00 L357.25,127.00 L357.50,127.00 L357.75,127.00 L358.00,127.00 L358.25,127.00 L358.50,127.00 L358.75,127.00 L359.00,127.00 L359.25,127.00 L359.50,126.39 L359.75,126.39 L360.00,126.39 L360.25,126.39 L360.50,126.39 L360.75,126.39 L361.00,126.39 L361.25,126.39 L361.50,127.00 L361.75,127.00 L362.00,127.00 L362.25,127.00 L362.50,127.00 L362.75,127.00 L363.00,127.00 L363.25,127.00 L363.50,127.00 L363.75,127.00 L364.00,126.45 L364.25,126.45 L364.50,126.45 L364.75,127.00 L365.00,125.81 L365.25,124.27 L365.50,123.97 L365.75,125.50 L366.00,125.91 L366.25,125.61 L366.50,126.10 L366.75,125.61 L367.00,124.78 L367.25,125.61 L367.50,126.43 L367.75,127.00 L368.00,127.00 L368.25,126.12 L368.50,125.12 L368.75,125.32 L369.00,126.32 L369.25,124.45 L369.50,123.95 L369.75,126.43 L370.00,127.00 L370.25,127.00 L370.50,126.44 L370.75,125.87 L371.00,125.29 L371.25,125.87 L371.50,126.29 L371.75,127.00 L372.00,127.00 L372.25,125.61 L372.50,124.16 L372.75,124.45 L373.00,125.90 L373.25,127.00 L373.50,126.44 L373.75,125.03 L374.00,123.63 L374.25,122.78 L374.50,124.19 L374.75,125.60 L375.00,127.00 L375.25,127.00 L375.50,127.00 L375.75,127.00 L376.00,127.00 L376.25,126.51 L376.50,126.51 L376.75,126.48 L377.00,124.91 L377.25,123.35 L377.50,123.04 L377.75,124.60 L378.00,126.16 L378.25,126.93 L378.50,125.73 L378.75,124.53 L379.00,123.32 L379.25,124.53 L379.50,124.71 L379.75,123.46 L380.00,124.21 L380.25,125.46 L380.50,126.35 L380.75,126.35 L381.00,126.28 L381.25,124.53 L381.50,124.18 L381.75,125.93 L382.00,127.00 L382.25,127.00 L382.50,127.00 L382.75,127.00 L383.00,127.00 L383.25,126.39 L383.50,124.88 L383.75,123.36 L384.00,124.27 L384.25,125.79 L384.50,127.00 L384.75,127.00 L385.00,127.00 L385.25,126.57 L385.50,126.57 L385.75,126.57 L386.00,126.57 L386.25,126.57 L386.50,127.00 L386.75,127.00 L387.00,127.00 L387.25,127.00 L387.50,127.00 L387.75,127.00 L388.00,127.00 L388.25,126.33 L388.50,126.33 L388.75,126.33 L389.00,126.33 L389.25,126.33 L389.50,126.33 L389.75,126.33 L390.00,127.00 L390.25,127.00 L390.50,127.00 L390.75,127.00 L391.00,127.00 L391.25,127.00 L391.50,127.00 L391.75,127.00 L392.00,126.51 L392.25,126.37 L392.50,125.89 L392.75,125.99 L393.00,126.46 L393.25,126.93 L393.50,127.00 L393.75,127.00 L394.00,126.54 L394.25,126.54 L394.50,126.54 L394.75,126.54 L395.00,126.54 L395.25,126.54 L395.50,126.40 L395.75,125.23 L396.00,125.93 L396.25,127.00 L396.50,127.00 L396.75,127.00 L397.00,127.00 L397.25,127.00 L397.50,127.00 L397.75,127.00 L398.00,127.00 L398.25,127.00 L398.50,125.39 L398.75,123.64 L399.00,121.89 L399.25,123.64 L399.50,125.39 L399.75,125.88 L400.00,126.12 L400.25,126.53 L400.50,126.94 L400.75,127.00 L401.00,127.00 L401.25,127.00 L401.50,127.00 L401.75,127.00 L402.00,124.87 L402.25,123.37 L402.50,125.86 L402.75,126.04 L403.00,125.22 L403.25,126.04 L403.50,126.86 L403.75,127.00 L404.00,127.00 L404.25,127.00 L404.50,127.00 L404.75,127.00 L405.00,127.00 L405.25,126.52 L405.50,126.52 L405.75,126.18 L406.00,125.11 L406.25,124.47 L406.50,125.54 L406.75,125.15 L407.00,124.29 L407.25,125.15 L407.50,126.01 L407.75,126.86 L408.00,127.00 L408.25,127.00 L408.50,127.00 L408.75,126.69 L409.00,125.53 L409.25,124.36 L409.50,124.12 L409.75,125.29 L410.00,126.46 L410.25,127.00 L410.50,127.00 L410.75,127.00 L411.00,127.00 L411.25,126.73 L411.50,126.34 L411.75,126.07 L412.00,126.27 L412.25,126.34 L412.50,126.34 L412.75,126.34 L413.00,126.07 L413.25,124.63 L413.50,124.34 L413.75,125.78 L414.00,127.00 L414.25,127.00 L414.50,127.00 L414.75,127.00 L415.00,127.00 L415.25,127.00 L415.50,127.00 L415.75,127.00 L416.00,127.00 L416.25,127.00 L416.50,127.00 L416.75,127.00 L417.00,126.93 L417.25,125.45 L417.50,125.15 L417.75,126.27 L418.00,125.70 L418.25,125.35 L418.50,125.93 L418.75,125.65 L419.00,123.82 L419.25,125.65 L419.50,126.29 L419.75,126.29 L420.00,126.29 L420.25,126.29 L420.50,126.07 L420.75,126.19 L421.00,126.29 L421.25,127.00 L421.50,127.00 L421.75,127.00 L422.00,127.00 L422.25,127.00 L422.50,127.00 L422.75,127.00 L423.00,127.00 L423.25,127.00 L423.50,127.00 L423.75,127.00 L424.00,127.00 L424.25,126.23 L424.50,125.40 L424.75,125.57 L425.00,126.40 L425.25,127.00 L425.50,126.92 L425.75,126.36 L426.00,125.80 L426.25,125.47 L426.50,126.02 L426.75,125.00 L427.00,123.14 L427.25,125.00 L427.50,126.86 L427.75,127.00 L428.00,127.00 L428.25,127.00 L428.50,127.00 L428.75,127.00 L429.00,127.00 L429.25,126.39 L429.50,126.39 L429.75,126.39 L430.00,124.91 L430.25,123.76 L430.50,125.68 L430.75,127.00 L431.00,127.00 L431.25,127.00 L431.50,125.71 L431.75,123.83 L432.00,124.96 L432.25,126.61 L432.50,126.07 L432.75,126.18 L433.00,125.26 L433.25,123.47 L433.50,123.12 L433.75,124.91 L434.00,124.21 L434.25,122.66 L434.50,125.20 L434.75,123.61 L435.00,122.01 L435.25,123.61 L435.50,125.20 L435.75,126.80 L436.00,127.00 L436.25,127.00 L436.50,127.00 L436.75,126.78 L437.00,125.01 L437.25,123.25 L437.50,122.89 L437.75,124.66 L438.00,126.42 L438.25,127.00 L438.50,127.00 L438.75,127.00 L439.00,127.00 L439.25,127.00 L439.50,126.32 L439.75,125.22 L440.00,125.88 L440.25,125.54 L440.50,124.16 L440.75,124.44 L441.00,125.10 L441.25,123.68 L441.50,123.39 L441.75,124.81 L442.00,126.23 L442.25,127.00 L442.50,127.00 L442.75,126.12 L443.00,125.19 L443.25,126.12 L443.50,125.70 L443.75,123.87 L444.00,124.97 L444.25,126.80 L444.50,127.00 L444.75,126.87 L445.00,125.90 L445.25,124.93 L445.50,124.73 L445.75,125.71 L446.00,126.68 L446.25,126.86 L446.50,126.04 L446.75,125.22 L447.00,124.41 L447.25,125.22 L447.50,126.04 L447.75,125.83 L448.00,126.24 L448.25,126.57 L448.50,127.00 L448.75,127.00 L449.00,127.00 L449.25,127.00 L449.50,126.32 L449.75,126.32 L450.00,126.32 L450.25,126.32 L450.50,126.94 L450.75,126.29 L451.00,125.63 L451.25,126.29 L451.50,126.94 L451.75,127.00 L452.00,127.00 L452.25,126.36 L452.50,125.56 L452.75,125.72 L453.00,126.19 L453.25,125.06 L453.50,124.83 L453.75,125.96 L454.00,126.05 L454.25,125.77 L454.50,126.24 L454.75,126.70 L455.00,127.00 L455.25,127.00 L455.50,126.30 L455.75,125.50 L456.00,125.98 L456.25,126.33 L456.50,126.33 L456.75,126.33 L457.00,126.33 L457.25,126.33 L457.50,125.69 L457.75,124.59 L458.00,123.50 L458.25,122.32 L458.50,124.41 L458.75,124.77 L459.00,123.34 L459.25,124.77 L459.50,126.20 L459.75,127.00 L460.00,127.00 L460.25,127.00 L460.50,127.00 L460.75,126.71 L461.00,125.69 L461.25,124.67 L461.50,124.46 L461.75,125.48 L462.00,126.21 L462.25,125.77 L462.50,126.50 L462.75,125.46 L463.00,124.06 L463.25,125.46 L463.50,126.31 L463.75,126.31 L464.00,126.31 L464.25,125.77 L464.50,124.80 L464.75,125.00 L465.00,124.57 L465.25,122.94 L465.50,122.62 L465.75,124.24 L466.00,125.20 L466.25,124.67 L466.50,124.30 L466.75,123.85 L467.00,123.40 L467.25,122.95 L467.50,122.50 L467.75,122.95 L468.00,123.40 L468.25,123.85 L468.50,124.30 L468.75,124.75 L469.00,125.20 L469.25,125.65 L469.50,126.10 L469.75,126.55 L470.00,127.00 L470.25,127.00 L470.50,126.12 L470.75,124.54 L471.00,122.96 L471.25,124.54 L471.50,124.31 L471.75,122.82 L472.00,123.72 L472.25,124.47 L472.50,122.73 L472.75,123.08 L473.00,124.82 L473.25,126.55 L473.50,127.00 L473.75,127.00 L474.00,125.81 L474.25,125.01 L474.50,126.35 L474.75,124.75 L475.00,122.34 L475.25,124.75 L475.50,125.70 L475.75,124.84 L476.00,125.36 L476.25,126.22 L476.50,126.53 L476.75,127.00 L477.00,127.00 L477.25,127.00 L477.50,127.00 L477.75,126.42 L478.00,125.62 L478.25,124.59 L478.50,126.30 L478.75,127.00 L479.00,127.00 L479.25,127.00 L479.50,127.00 L479.75,127.00 L480.00,127.00 L480.25,127.00 L480.50,127.00 L480.75,127.00 L481.00,126.81 L481.25,125.33 L481.50,125.03 L481.75,126.51 L482.00,127.00 L482,127.0 Z" fill="#111"/>
<line x1="313" y1="132.5" x2="468" y2="132.5" stroke="#A2A2C8" stroke-width="0.8" stroke-dasharray="1.4 0.5"/>
<rect x="312.8" y="131.6" width="4.4" height="1.8" fill="#23237a"/>
<circle cx="339.5" cy="132.5" r="0.8" fill="#23237a"/>
<circle cx="346" cy="132.5" r="0.8" fill="#23237a"/>
<circle cx="449.5" cy="132.5" r="0.8" fill="#23237a"/>
<circle cx="467.2" cy="132.5" r="0.8" fill="#23237a"/>
<path d="M307,154.8 L307.00,153.93 L307.25,153.93 L307.50,153.93 L307.75,153.93 L308.00,153.93 L308.25,153.93 L308.50,153.93 L308.75,153.93 L309.00,153.93 L309.25,153.93 L309.50,153.93 L309.75,153.93 L310.00,153.93 L310.25,153.93 L310.50,154.29 L310.75,153.32 L311.00,152.35 L311.25,153.32 L311.50,154.29 L311.75,154.80 L312.00,154.80 L312.25,154.24 L312.50,154.24 L312.75,154.24 L313.00,154.24 L313.25,154.24 L313.50,154.80 L313.75,154.80 L314.00,154.80 L314.25,154.80 L314.50,154.80 L314.75,154.80 L315.00,154.80 L315.25,154.80 L315.50,154.80 L315.75,153.85 L316.00,153.85 L316.25,153.85 L316.50,153.60 L316.75,153.72 L317.00,153.85 L317.25,153.85 L317.50,154.80 L317.75,154.09 L318.00,153.21 L318.25,152.68 L318.50,153.56 L318.75,153.84 L319.00,152.85 L319.25,153.84 L319.50,154.20 L319.75,153.55 L320.00,153.94 L320.25,154.02 L320.50,153.73 L320.75,153.90 L321.00,154.02 L321.25,154.02 L321.50,154.02 L321.75,154.02 L322.00,154.02 L322.25,154.02 L322.50,154.02 L322.75,154.02 L323.00,154.02 L323.25,154.02 L323.50,154.80 L323.75,154.80 L324.00,154.80 L324.25,154.80 L324.50,154.80 L324.75,154.80 L325.00,154.80 L325.25,154.80 L325.50,153.96 L325.75,153.96 L326.00,153.92 L326.25,153.50 L326.50,153.96 L326.75,153.96 L327.00,153.96 L327.25,153.96 L327.50,153.92 L327.75,153.04 L328.00,153.57 L328.25,153.96 L328.50,153.52 L328.75,153.71 L329.00,153.96 L329.25,154.80 L329.50,154.80 L329.75,154.80 L330.00,154.80 L330.25,154.80 L330.50,154.80 L330.75,154.80 L331.00,154.80 L331.25,154.80 L331.50,154.80 L331.75,154.80 L332.00,154.80 L332.25,154.80 L332.50,154.80 L332.75,154.18 L333.00,154.18 L333.25,154.18 L333.50,154.18 L333.75,154.18 L334.00,154.18 L334.25,154.80 L334.50,154.80 L334.75,154.80 L335.00,154.24 L335.25,154.24 L335.50,154.24 L335.75,154.24 L336.00,154.24 L336.25,154.24 L336.50,154.24 L336.75,154.24 L337.00,154.24 L337.25,154.24 L337.50,154.24 L337.75,154.80 L338.00,154.80 L338.25,154.80 L338.50,154.80 L338.75,154.80 L339.00,154.80 L339.25,154.80 L339.50,153.91 L339.75,153.91 L340.00,153.91 L340.25,153.91 L340.50,153.91 L340.75,153.91 L341.00,153.91 L341.25,153.91 L341.50,154.80 L341.75,154.80 L342.00,154.80 L342.25,154.80 L342.50,154.59 L342.75,154.18 L343.00,153.77 L343.25,153.96 L343.50,153.96 L343.75,153.96 L344.00,153.96 L344.25,153.96 L344.50,153.96 L344.75,153.96 L345.00,153.96 L345.25,153.96 L345.50,154.80 L345.75,154.80 L346.00,154.80 L346.25,154.80 L346.50,154.23 L346.75,154.23 L347.00,154.23 L347.25,154.23 L347.50,154.23 L347.75,154.23 L348.00,154.23 L348.25,154.23 L348.50,154.23 L348.75,154.23 L349.00,154.23 L349.25,154.23 L349.50,154.23 L349.75,154.23 L350.00,154.23 L350.25,154.80 L350.50,154.80 L350.75,154.80 L351.00,154.80 L351.25,154.80 L351.50,154.80 L351.75,154.80 L352.00,154.80 L352.25,154.24 L352.50,154.24 L352.75,154.24 L353.00,154.24 L353.25,154.24 L353.50,154.24 L353.75,154.24 L354.00,154.24 L354.25,154.24 L354.50,154.24 L354.75,154.24 L355.00,154.80 L355.25,154.80 L355.50,154.16 L355.75,154.16 L356.00,154.16 L356.25,154.16 L356.50,154.16 L356.75,154.16 L357.00,154.16 L357.25,154.16 L357.50,154.16 L357.75,154.16 L358.00,154.16 L358.25,154.16 L358.50,154.16 L358.75,154.16 L359.00,154.16 L359.25,154.16 L359.50,154.80 L359.75,154.80 L360.00,154.80 L360.25,154.80 L360.50,154.80 L360.75,154.80 L361.00,154.80 L361.25,154.80 L361.50,154.80 L361.75,154.80 L362.00,154.80 L362.25,154.80 L362.50,154.80 L362.75,154.80 L363.00,154.80 L363.25,154.80 L363.50,154.80 L363.75,154.03 L364.00,154.03 L364.25,154.03 L364.50,154.03 L364.75,154.03 L365.00,154.03 L365.25,154.03 L365.50,154.03 L365.75,154.03 L366.00,153.87 L366.25,153.41 L366.50,154.17 L366.75,154.59 L367.00,154.52 L367.25,154.45 L367.50,154.38 L367.75,154.31 L368.00,153.92 L368.25,153.92 L368.50,153.92 L368.75,153.92 L369.00,153.92 L369.25,153.90 L369.50,153.83 L369.75,153.76 L370.00,153.69 L370.25,153.62 L370.50,153.55 L370.75,153.48 L371.00,153.41 L371.25,153.34 L371.50,153.27 L371.75,153.20 L372.00,152.93 L372.25,152.30 L372.50,151.68 L372.75,151.05 L373.00,150.43 L373.25,149.80 L373.50,150.43 L373.75,151.05 L374.00,151.68 L374.25,152.30 L374.50,152.44 L374.75,152.37 L375.00,152.30 L375.25,152.37 L375.50,151.94 L375.75,150.91 L376.00,149.89 L376.25,148.87 L376.50,147.85 L376.75,146.82 L377.00,145.80 L377.25,146.82 L377.50,144.70 L377.75,141.33 L378.00,137.97 L378.25,134.60 L378.50,137.97 L378.75,141.33 L379.00,144.70 L379.25,148.07 L379.50,151.43 L379.75,153.62 L380.00,153.69 L380.25,153.76 L380.50,153.83 L380.75,153.90 L381.00,153.97 L381.25,154.04 L381.50,154.10 L381.75,154.10 L382.00,154.10 L382.25,154.31 L382.50,154.38 L382.75,154.45 L383.00,154.52 L383.25,154.59 L383.50,154.66 L383.75,154.73 L384.00,154.80 L384.25,154.80 L384.50,154.11 L384.75,154.11 L385.00,154.11 L385.25,153.61 L385.50,153.47 L385.75,154.11 L386.00,154.11 L386.25,154.11 L386.50,154.80 L386.75,154.80 L387.00,154.80 L387.25,153.96 L387.50,153.96 L387.75,153.96 L388.00,153.96 L388.25,153.85 L388.50,152.78 L388.75,153.00 L389.00,154.07 L389.25,154.80 L389.50,154.80 L389.75,154.80 L390.00,154.80 L390.25,154.80 L390.50,154.80 L390.75,154.80 L391.00,154.80 L391.25,153.85 L391.50,153.85 L391.75,153.85 L392.00,153.85 L392.25,153.85 L392.50,154.80 L392.75,154.80 L393.00,154.80 L393.25,154.80 L393.50,154.80 L393.75,154.80 L394.00,154.00 L394.25,154.00 L394.50,154.00 L394.75,154.00 L395.00,154.00 L395.25,154.00 L395.50,153.81 L395.75,153.24 L396.00,153.58 L396.25,153.57 L396.50,152.64 L396.75,152.82 L397.00,153.76 L397.25,154.70 L397.50,154.80 L397.75,154.22 L398.00,154.22 L398.25,154.22 L398.50,154.22 L398.75,154.22 L399.00,154.22 L399.25,154.22 L399.50,154.22 L399.75,154.22 L400.00,154.74 L400.25,153.94 L400.50,153.15 L400.75,153.31 L401.00,154.10 L401.25,154.80 L401.50,154.80 L401.75,154.80 L402.00,154.80 L402.25,154.80 L402.50,153.90 L402.75,153.40 L403.00,152.66 L403.25,153.40 L403.50,153.88 L403.75,153.34 L404.00,153.66 L404.25,153.90 L404.50,153.90 L404.75,153.90 L405.00,154.80 L405.25,154.80 L405.50,154.53 L405.75,153.78 L406.00,153.04 L406.25,152.59 L406.50,153.34 L406.75,153.99 L407.00,153.99 L407.25,153.99 L407.50,153.99 L407.75,153.99 L408.00,153.99 L408.25,153.99 L408.50,152.78 L408.75,153.04 L409.00,153.99 L409.25,153.99 L409.50,154.80 L409.75,154.80 L410.00,154.80 L410.25,154.80 L410.50,154.80 L410.75,154.80 L411.00,154.80 L411.25,154.33 L411.50,153.78 L411.75,153.24 L412.00,153.57 L412.25,153.97 L412.50,153.01 L412.75,153.20 L413.00,154.16 L413.25,153.39 L413.50,153.13 L413.75,154.18 L414.00,153.84 L414.25,153.20 L414.50,154.20 L414.75,153.44 L415.00,152.68 L415.25,153.44 L415.50,154.20 L415.75,154.80 L416.00,153.84 L416.25,153.84 L416.50,153.27 L416.75,153.45 L417.00,153.84 L417.25,153.84 L417.50,153.84 L417.75,153.84 L418.00,153.84 L418.25,153.84 L418.50,154.80 L418.75,154.80 L419.00,154.80 L419.25,154.80 L419.50,154.80 L419.75,154.80 L420.00,154.80 L420.25,154.24 L420.50,152.99 L420.75,153.24 L421.00,154.50 L421.25,154.80 L421.50,154.80 L421.75,154.80 L422.00,154.05 L422.25,154.05 L422.50,154.05 L422.75,154.05 L423.00,154.05 L423.25,154.05 L423.50,154.05 L423.75,154.05 L424.00,154.05 L424.25,153.88 L424.50,153.70 L424.75,153.52 L425.00,153.33 L425.25,153.15 L425.50,152.97 L425.75,152.78 L426.00,152.60 L426.25,152.78 L426.50,152.97 L426.75,153.15 L427.00,153.33 L427.25,153.52 L427.50,153.70 L427.75,153.88 L428.00,153.23 L428.25,152.35 L428.50,151.48 L428.75,150.60 L429.00,151.48 L429.25,152.35 L429.50,153.23 L429.75,154.10 L430.00,154.80 L430.25,154.80 L430.50,154.23 L430.75,153.34 L431.00,152.46 L431.25,153.34 L431.50,154.09 L431.75,152.79 L432.00,153.57 L432.25,154.17 L432.50,153.08 L432.75,153.30 L433.00,154.20 L433.25,154.20 L433.50,154.20 L433.75,154.20 L434.00,154.80 L434.25,154.80 L434.50,154.80 L434.75,154.80 L435.00,154.80 L435.25,154.80 L435.50,154.80 L435.75,154.80 L436.00,154.80 L436.25,154.40 L436.50,153.00 L436.75,153.28 L437.00,153.70 L437.25,152.68 L437.50,152.48 L437.75,153.49 L438.00,153.93 L438.25,153.93 L438.50,153.93 L438.75,153.08 L439.00,152.04 L439.25,153.08 L439.50,153.93 L439.75,153.93 L440.00,153.93 L440.25,153.93 L440.50,153.01 L440.75,153.21 L441.00,154.22 L441.25,154.80 L441.50,154.80 L441.75,154.80 L442.00,154.80 L442.25,154.80 L442.50,154.09 L442.75,154.09 L443.00,154.09 L443.25,154.09 L443.50,154.09 L443.75,154.09 L444.00,154.09 L444.25,154.09 L444.50,154.09 L444.75,154.09 L445.00,153.81 L445.25,152.85 L445.50,152.65 L445.75,153.61 L446.00,154.57 L446.25,154.80 L446.50,154.80 L446.75,154.80 L447.00,154.80 L447.25,154.80 L447.50,154.80 L447.75,153.93 L448.00,153.93 L448.25,153.93 L448.50,153.93 L448.75,153.93 L449.00,153.93 L449.25,153.93 L449.50,153.93 L449.75,153.93 L450.00,153.93 L450.25,154.80 L450.50,154.80 L450.75,154.80 L451.00,154.80 L451.25,154.80 L451.50,154.80 L451.75,154.80 L452.00,153.98 L452.25,153.98 L452.50,153.81 L452.75,153.94 L453.00,153.95 L453.25,152.84 L453.50,152.62 L453.75,153.73 L454.00,153.98 L454.25,153.98 L454.50,153.98 L454.75,153.49 L455.00,152.85 L455.25,153.49 L455.50,153.98 L455.75,153.98 L456.00,154.80 L456.25,154.80 L456.50,154.80 L456.75,154.80 L457.00,154.80 L457.25,154.80 L457.50,154.14 L457.75,154.14 L458.00,153.98 L458.25,153.51 L458.50,154.14 L458.75,154.14 L459.00,154.14 L459.25,154.14 L459.50,154.14 L459.75,154.14 L460.00,154.14 L460.25,154.80 L460.50,154.80 L460.75,154.80 L461.00,154.45 L461.25,153.67 L461.50,153.51 L461.75,154.29 L462.00,153.81 L462.25,153.31 L462.50,153.98 L462.75,153.98 L463.00,153.98 L463.25,153.98 L463.50,153.59 L463.75,152.37 L464.00,153.10 L464.25,153.98 L464.50,153.98 L464.75,153.98 L465.00,153.98 L465.25,153.98 L465.50,154.80 L465.75,154.80 L466.00,154.80 L466.25,154.80 L466.50,154.80 L466.75,154.80 L467.00,154.80 L467.25,154.80 L467.50,153.94 L467.75,153.94 L468.00,153.94 L468.25,153.94 L468.50,152.97 L468.75,153.19 L469.00,153.94 L469.25,153.94 L469.50,153.94 L469.75,153.94 L470.00,153.94 L470.25,153.94 L470.50,154.80 L470.75,154.21 L471.00,153.28 L471.25,154.21 L471.50,154.80 L471.75,154.80 L472.00,154.36 L472.25,153.77 L472.50,153.19 L472.75,153.31 L473.00,153.89 L473.25,153.89 L473.50,153.89 L473.75,153.89 L474.00,153.89 L474.25,153.89 L474.50,153.89 L474.75,153.89 L475.00,153.89 L475.25,153.89 L475.50,153.89 L475.75,153.89 L476.00,153.89 L476.25,154.80 L476.50,154.80 L476.75,154.80 L477.00,154.80 L477.25,154.80 L477.50,154.80 L477.75,154.28 L478.00,153.69 L478.25,153.33 L478.50,153.93 L478.75,154.52 L479.00,154.80 L479.25,154.80 L479.50,154.80 L479.75,154.80 L480.00,154.80 L480.25,154.80 L480.50,154.17 L480.75,154.17 L481.00,154.17 L481.25,154.17 L481.50,154.17 L481.75,154.17 L482.00,153.90 L482.25,153.64 L482.50,154.08 L482.75,154.17 L483.00,154.80 L483,154.8 Z" fill="#111"/>
<path d="M307,176.2 L307.00,176.20 L307.25,176.20 L307.50,176.20 L307.75,176.20 L308.00,176.20 L308.25,176.20 L308.50,176.20 L308.75,175.59 L309.00,174.49 L309.25,173.39 L309.50,173.17 L309.75,174.27 L310.00,174.07 L310.25,173.17 L310.50,174.68 L310.75,175.34 L311.00,174.86 L311.25,175.34 L311.50,175.05 L311.75,172.99 L312.00,174.23 L312.25,175.54 L312.50,175.10 L312.75,175.21 L313.00,175.54 L313.25,175.54 L313.50,175.54 L313.75,174.91 L314.00,173.89 L314.25,173.28 L314.50,174.30 L314.75,174.41 L315.00,173.40 L315.25,174.41 L315.50,175.43 L315.75,175.59 L316.00,175.59 L316.25,175.48 L316.50,173.65 L316.75,174.02 L317.00,175.85 L317.25,173.49 L317.50,172.99 L317.75,175.50 L318.00,176.20 L318.25,176.20 L318.50,176.20 L318.75,176.20 L319.00,176.20 L319.25,176.20 L319.50,176.20 L319.75,176.20 L320.00,175.67 L320.25,175.67 L320.50,175.67 L320.75,175.67 L321.00,175.67 L321.25,175.67 L321.50,176.20 L321.75,176.06 L322.00,174.90 L322.25,174.21 L322.50,175.37 L322.75,176.20 L323.00,176.20 L323.25,176.20 L323.50,176.20 L323.75,176.20 L324.00,176.20 L324.25,176.20 L324.50,176.20 L324.75,176.20 L325.00,175.67 L325.25,174.39 L325.50,174.13 L325.75,175.42 L326.00,176.20 L326.25,176.20 L326.50,176.20 L326.75,176.20 L327.00,176.20 L327.25,176.20 L327.50,176.20 L327.75,176.20 L328.00,176.20 L328.25,176.20 L328.50,176.20 L328.75,176.20 L329.00,176.20 L329.25,176.20 L329.50,176.20 L329.75,176.20 L330.00,176.20 L330.25,176.20 L330.50,176.20 L330.75,175.04 L331.00,173.26 L331.25,175.04 L331.50,175.27 L331.75,174.79 L332.00,175.08 L332.25,173.88 L332.50,172.52 L332.75,172.79 L333.00,174.15 L333.25,173.61 L333.50,173.13 L333.75,175.52 L334.00,175.52 L334.25,175.11 L334.50,175.83 L334.75,174.49 L335.00,172.18 L335.25,174.49 L335.50,176.20 L335.75,176.20 L336.00,176.20 L336.25,175.57 L336.50,174.84 L336.75,174.99 L337.00,174.95 L337.25,172.90 L337.50,172.49 L337.75,174.54 L338.00,176.20 L338.25,176.20 L338.50,176.20 L338.75,176.20 L339.00,176.20 L339.25,175.72 L339.50,175.72 L339.75,175.72 L340.00,176.20 L340.25,175.71 L340.50,174.55 L340.75,174.78 L341.00,175.95 L341.25,176.20 L341.50,176.11 L341.75,175.17 L342.00,174.23 L342.25,173.66 L342.50,174.61 L342.75,175.55 L343.00,176.20 L343.25,176.20 L343.50,176.20 L343.75,176.20 L344.00,176.20 L344.25,175.59 L344.50,175.59 L344.75,175.59 L345.00,175.59 L345.25,175.59 L345.50,175.59 L345.75,175.44 L346.00,174.08 L346.25,173.26 L346.50,174.62 L346.75,175.98 L347.00,176.20 L347.25,176.20 L347.50,176.20 L347.75,175.74 L348.00,175.74 L348.25,175.74 L348.50,175.74 L348.75,176.20 L349.00,176.20 L349.25,176.20 L349.50,175.88 L349.75,174.54 L350.00,173.21 L350.25,172.40 L350.50,173.74 L350.75,173.32 L351.00,171.87 L351.25,173.32 L351.50,174.77 L351.75,175.56 L352.00,175.56 L352.25,175.56 L352.50,174.60 L352.75,174.82 L353.00,175.11 L353.25,173.22 L353.50,172.85 L353.75,174.73 L354.00,175.00 L354.25,174.22 L354.50,175.51 L354.75,176.20 L355.00,176.20 L355.25,176.20 L355.50,176.20 L355.75,176.20 L356.00,176.20 L356.25,176.20 L356.50,176.20 L356.75,176.20 L357.00,175.92 L357.25,174.54 L357.50,174.26 L357.75,175.64 L358.00,176.20 L358.25,176.20 L358.50,176.20 L358.75,176.20 L359.00,176.20 L359.25,176.20 L359.50,176.20 L359.75,176.20 L360.00,176.20 L360.25,176.20 L360.50,176.20 L360.75,176.20 L361.00,176.20 L361.25,176.20 L361.50,175.54 L361.75,175.54 L362.00,175.54 L362.25,175.54 L362.50,175.29 L362.75,174.53 L363.00,173.76 L363.25,174.53 L363.50,175.29 L363.75,176.05 L364.00,176.20 L364.25,176.20 L364.50,176.20 L364.75,176.20 L365.00,176.20 L365.25,175.66 L365.50,175.66 L365.75,175.66 L366.00,175.66 L366.25,175.66 L366.50,175.66 L366.75,176.20 L367.00,176.20 L367.25,176.20 L367.50,175.67 L367.75,174.74 L368.00,175.30 L368.25,176.20 L368.50,176.20 L368.75,176.20 L369.00,175.73 L369.25,175.73 L369.50,175.73 L369.75,175.73 L370.00,174.59 L370.25,173.61 L370.50,175.25 L370.75,176.20 L371.00,176.20 L371.25,176.20 L371.50,175.67 L371.75,175.67 L372.00,175.67 L372.25,174.05 L372.50,172.35 L372.75,172.69 L373.00,174.39 L373.25,174.58 L373.50,174.32 L373.75,174.45 L374.00,174.20 L374.25,173.95 L374.50,173.70 L374.75,173.45 L375.00,173.20 L375.25,172.95 L375.50,172.70 L375.75,172.45 L376.00,172.20 L376.25,172.27 L376.50,171.49 L376.75,170.70 L377.00,169.91 L377.25,169.13 L377.50,168.34 L377.75,167.56 L378.00,166.77 L378.25,165.99 L378.50,165.20 L378.75,162.66 L379.00,159.58 L379.25,156.50 L379.50,159.58 L379.75,162.66 L380.00,165.73 L380.25,168.81 L380.50,171.49 L380.75,172.27 L381.00,173.06 L381.25,173.84 L381.50,174.63 L381.75,175.41 L382.00,176.20 L382.25,176.20 L382.50,175.54 L382.75,175.39 L383.00,174.99 L383.25,175.39 L383.50,173.98 L383.75,172.01 L384.00,173.19 L384.25,175.15 L384.50,174.38 L384.75,174.53 L385.00,175.31 L385.25,174.01 L385.50,173.63 L385.75,175.52 L386.00,176.20 L386.25,176.20 L386.50,176.20 L386.75,174.36 L387.00,172.17 L387.25,174.36 L387.50,176.20 L387.75,176.20 L388.00,176.20 L388.25,175.84 L388.50,174.26 L388.75,174.57 L389.00,176.15 L389.25,176.20 L389.50,176.20 L389.75,176.20 L390.00,176.20 L390.25,176.20 L390.50,176.20 L390.75,175.16 L391.00,173.48 L391.25,175.16 L391.50,175.54 L391.75,175.54 L392.00,175.54 L392.25,176.20 L392.50,176.20 L392.75,176.20 L393.00,176.20 L393.25,176.20 L393.50,176.20 L393.75,176.20 L394.00,175.40 L394.25,174.92 L394.50,175.72 L394.75,176.20 L395.00,175.65 L395.25,175.65 L395.50,176.20 L395.75,176.20 L396.00,176.20 L396.25,176.20 L396.50,175.75 L396.75,175.75 L397.00,175.75 L397.25,175.75 L397.50,175.75 L397.75,175.64 L398.00,174.80 L398.25,174.30 L398.50,175.14 L398.75,174.16 L399.00,173.15 L399.25,174.16 L399.50,173.64 L399.75,171.99 L400.00,172.98 L400.25,174.43 L400.50,173.02 L400.75,173.30 L401.00,174.71 L401.25,175.52 L401.50,175.52 L401.75,175.16 L402.00,173.41 L402.25,172.36 L402.50,174.11 L402.75,175.86 L403.00,176.20 L403.25,175.60 L403.50,175.60 L403.75,175.04 L404.00,175.53 L404.25,175.60 L404.50,174.45 L404.75,174.69 L405.00,174.68 L405.25,173.34 L405.50,173.07 L405.75,174.41 L406.00,175.76 L406.25,176.20 L406.50,175.41 L406.75,173.96 L407.00,172.52 L407.25,173.96 L407.50,174.33 L407.75,172.41 L408.00,173.56 L408.25,175.21 L408.50,174.61 L408.75,174.73 L409.00,175.31 L409.25,174.30 L409.50,174.10 L409.75,175.11 L410.00,174.35 L410.25,173.16 L410.50,175.14 L410.75,174.28 L411.00,173.07 L411.25,174.28 L411.50,175.49 L411.75,176.20 L412.00,175.45 L412.25,174.47 L412.50,173.48 L412.75,173.68 L413.00,174.66 L413.25,175.60 L413.50,175.60 L413.75,176.20 L414.00,176.20 L414.25,176.20 L414.50,176.20 L414.75,176.20 L415.00,176.20 L415.25,175.67 L415.50,175.11 L415.75,174.55 L416.00,174.88 L416.25,175.41 L416.50,174.42 L416.75,174.62 L417.00,175.61 L417.25,175.64 L417.50,176.20 L417.75,176.20 L418.00,176.20 L418.25,176.20 L418.50,176.20 L418.75,176.20 L419.00,176.20 L419.25,175.92 L419.50,175.27 L419.75,174.63 L420.00,175.01 L420.25,175.66 L420.50,176.20 L420.75,176.20 L421.00,176.20 L421.25,176.20 L421.50,176.20 L421.75,176.20 L422.00,176.20 L422.25,176.20 L422.50,175.75 L422.75,175.47 L423.00,174.91 L423.25,175.47 L423.50,175.75 L423.75,175.75 L424.00,175.75 L424.25,175.98 L424.50,174.87 L424.75,175.09 L425.00,175.65 L425.25,174.76 L425.50,174.59 L425.75,175.47 L426.00,176.20 L426.25,176.20 L426.50,176.20 L426.75,176.20 L427.00,176.20 L427.25,176.20 L427.50,176.20 L427.75,176.20 L428.00,176.20 L428.25,176.20 L428.50,176.20 L428.75,176.03 L429.00,174.99 L429.25,173.94 L429.50,173.73 L429.75,174.78 L430.00,175.82 L430.25,176.20 L430.50,176.20 L430.75,175.69 L431.00,174.95 L431.25,175.69 L431.50,176.20 L431.75,176.20 L432.00,176.20 L432.25,176.20 L432.50,176.20 L432.75,176.16 L433.00,174.69 L433.25,173.22 L433.50,172.92 L433.75,174.40 L434.00,175.51 L434.25,175.51 L434.50,175.51 L434.75,175.51 L435.00,175.51 L435.25,175.51 L435.50,174.88 L435.75,172.73 L436.00,174.02 L436.25,175.15 L436.50,174.07 L436.75,174.29 L437.00,175.36 L437.25,174.74 L437.50,174.52 L437.75,175.65 L438.00,175.41 L438.25,174.85 L438.50,175.79 L438.75,174.91 L439.00,173.89 L439.25,174.91 L439.50,175.76 L439.75,175.76 L440.00,175.76 L440.25,175.76 L440.50,175.76 L440.75,176.20 L441.00,175.33 L441.25,174.44 L441.50,174.26 L441.75,175.15 L442.00,175.21 L442.25,174.60 L442.50,175.61 L442.75,176.20 L443.00,176.20 L443.25,176.20 L443.50,175.33 L443.75,174.42 L444.00,174.97 L444.25,175.87 L444.50,176.20 L444.75,176.20 L445.00,176.20 L445.25,176.20 L445.50,176.20 L445.75,176.20 L446.00,176.20 L446.25,176.20 L446.50,176.20 L446.75,176.20 L447.00,176.20 L447.25,175.30 L447.50,173.75 L447.75,172.21 L448.00,173.14 L448.25,174.68 L448.50,174.06 L448.75,174.26 L449.00,174.59 L449.25,173.48 L449.50,173.26 L449.75,174.37 L450.00,174.46 L450.25,173.59 L450.50,175.04 L450.75,175.59 L451.00,175.59 L451.25,175.72 L451.50,174.84 L451.75,173.95 L452.00,174.48 L452.25,174.57 L452.50,172.68 L452.75,173.06 L453.00,174.95 L453.25,175.67 L453.50,175.67 L453.75,175.44 L454.00,174.08 L454.25,173.27 L454.50,174.63 L454.75,174.25 L455.00,171.98 L455.25,174.25 L455.50,176.20 L455.75,176.20 L456.00,176.20 L456.25,176.20 L456.50,176.20 L456.75,176.20 L457.00,176.20 L457.25,176.20 L457.50,175.88 L457.75,175.08 L458.00,174.28 L458.25,173.80 L458.50,174.60 L458.75,173.86 L459.00,172.36 L459.25,173.86 L459.50,175.35 L459.75,175.56 L460.00,175.56 L460.25,175.56 L460.50,176.20 L460.75,176.20 L461.00,176.20 L461.25,176.20 L461.50,175.63 L461.75,175.63 L462.00,175.63 L462.25,175.63 L462.50,175.63 L462.75,176.20 L463.00,176.20 L463.25,176.20 L463.50,176.20 L463.75,175.77 L464.00,175.77 L464.25,175.77 L464.50,175.77 L464.75,175.77 L465.00,176.20 L465.25,176.20 L465.50,176.20 L465.75,176.20 L466.00,176.20 L466.25,176.20 L466.50,176.20 L466.75,176.20 L467.00,175.73 L467.25,175.73 L467.50,175.39 L467.75,174.01 L468.00,174.84 L468.25,176.20 L468.50,176.20 L468.75,176.20 L469.00,176.20 L469.25,176.20 L469.50,176.20 L469.75,176.20 L470.00,175.71 L470.25,175.71 L470.50,175.71 L470.75,176.20 L471.00,176.20 L471.25,176.20 L471.50,176.20 L471.75,176.20 L472.00,176.20 L472.25,176.20 L472.50,176.20 L472.75,176.20 L473.00,176.20 L473.25,176.20 L473.50,176.20 L473.75,176.20 L474.00,176.20 L474.25,176.20 L474.50,175.71 L474.75,175.71 L475.00,175.71 L475.25,175.71 L475.50,176.20 L475.75,176.20 L476.00,176.20 L476.25,176.20 L476.50,176.20 L476.75,176.20 L477.00,176.20 L477.25,176.20 L477.50,176.20 L477.75,176.20 L478.00,176.20 L478.25,176.20 L478.50,176.20 L478.75,176.20 L479.00,176.20 L479.25,176.20 L479.50,174.84 L479.75,173.42 L480.00,174.27 L480.25,175.67 L480.50,173.98 L480.75,174.35 L481.00,175.82 L481.25,175.45 L481.50,175.37 L481.75,175.74 L482.00,176.11 L482.25,175.61 L482.50,175.61 L482.75,175.61 L483.00,175.61 L483,176.2 Z" fill="#111"/>
<line x1="372" y1="177.9" x2="412" y2="177.9" stroke="#A2A2C8" stroke-width="0.7" stroke-dasharray="1.4 0.5"/>
<circle cx="374.4" cy="178.0" r="1.0" fill="#2a2a8a"/>
<circle cx="390.6" cy="177.7" r="0.9" fill="#2a2a8a"/>
<rect x="404.4" y="177.3" width="7.2" height="1.4" fill="#2a2a8a"/>
<path d="M99.6,195.8 L99.60,144.50 A51.3,51.3 0 0 1 149.29,208.56 Z" fill="#62A3DE" stroke="#fff" stroke-width="1.3" stroke-linejoin="round"/>
<path d="M99.6,195.8 L149.29,208.56 A51.3,51.3 0 0 1 80.12,243.26 Z" fill="#E0901E" stroke="#fff" stroke-width="1.3" stroke-linejoin="round"/>
<path d="M99.6,195.8 L80.12,243.26 A51.3,51.3 0 0 1 51.67,177.52 Z" fill="#C8C7CE" stroke="#fff" stroke-width="1.3" stroke-linejoin="round"/>
<path d="M99.6,195.8 L51.67,177.52 A51.3,51.3 0 0 1 85.91,146.36 Z" fill="#F2C214" stroke="#fff" stroke-width="1.3" stroke-linejoin="round"/>
<path d="M99.6,195.8 L85.91,146.36 A51.3,51.3 0 0 1 89.35,145.53 Z" fill="#1F2A5E" stroke="#fff" stroke-width="1.3" stroke-linejoin="round"/>
<path d="M99.6,195.8 L89.35,145.53 A51.3,51.3 0 0 1 99.60,144.50 Z" fill="#5EA644" stroke="#fff" stroke-width="1.3" stroke-linejoin="round"/>
<text x="131.8" y="176.6" font-size="6.6" text-anchor="middle" font-weight="normal" font-style="normal" fill="#101830" stroke="#101830" stroke-width="0.25" >29.0%</text>
<text x="120.2" y="232.6" font-size="6.6" text-anchor="middle" font-weight="normal" font-style="normal" fill="#201000" stroke="#201000" stroke-width="0.25" >27.2%</text>
<text x="63.2" y="213" font-size="6.6" text-anchor="middle" font-weight="normal" font-style="normal" fill="#202020" stroke="#202020" stroke-width="0.25" >24.6%</text>
<text x="72.3" y="170.7" font-size="6.6" text-anchor="middle" font-weight="normal" font-style="normal" fill="#201800" stroke="#201800" stroke-width="0.25" >14.9%</text>
<text x="70" y="143.4" font-size="6.3" text-anchor="start" font-weight="normal" font-style="normal" fill="#1a1a1a" stroke="#1a1a1a" stroke-width="0.2" textLength="14" lengthAdjust="spacingAndGlyphs">1.1%</text>
<text x="87.4" y="140" font-size="6.4" text-anchor="start" font-weight="normal" font-style="normal" fill="#1a1a1a" stroke="#1a1a1a" stroke-width="0.2" textLength="14.6" lengthAdjust="spacingAndGlyphs">3.2%</text>
<polyline points="84,143.3 86,143.6 87.5,145.3" fill="none" stroke="#222" stroke-width="0.5"/>
<rect x="165.2" y="161.40" width="3.6" height="3.6" fill="#5A86B8"/>
<text x="171.8" y="165.50" font-size="7.7" text-anchor="start" font-weight="normal" font-style="normal" fill="#1a1a1a" stroke="#1a1a1a" stroke-width="0.28" >Promoter</text>
<rect x="165.2" y="174.65" width="3.6" height="3.6" fill="#9A7040"/>
<text x="171.8" y="178.75" font-size="7.7" text-anchor="start" font-weight="normal" font-style="normal" fill="#1a1a1a" stroke="#1a1a1a" stroke-width="0.28" >Intron</text>
<rect x="165.2" y="187.90" width="3.6" height="3.6" fill="#8E8E96"/>
<text x="171.8" y="192.00" font-size="7.7" text-anchor="start" font-weight="normal" font-style="normal" fill="#1a1a1a" stroke="#1a1a1a" stroke-width="0.28" >Intergenic</text>
<rect x="165.2" y="201.15" width="3.6" height="3.6" fill="#C8B868"/>
<text x="171.8" y="205.25" font-size="7.7" text-anchor="start" font-weight="normal" font-style="normal" fill="#1a1a1a" stroke="#1a1a1a" stroke-width="0.28" >5'UTR</text>
<rect x="165.2" y="214.40" width="3.6" height="3.6" fill="#46508C"/>
<text x="171.8" y="218.50" font-size="7.7" text-anchor="start" font-weight="normal" font-style="normal" fill="#1a1a1a" stroke="#1a1a1a" stroke-width="0.28" >3'UTR</text>
<rect x="165.2" y="227.65" width="3.6" height="3.6" fill="#66865A"/>
<text x="171.8" y="231.75" font-size="7.7" text-anchor="start" font-weight="normal" font-style="normal" fill="#1a1a1a" stroke="#1a1a1a" stroke-width="0.28" >Coding exon</text>
<text x="119.6" y="298.7" font-size="7.75" text-anchor="middle" font-weight="normal" font-style="normal" fill="#1a1a1a" stroke="#1a1a1a" stroke-width="0.28" >RUNX1 motif (57.6%)</text>
<line x1="81.5" y1="303" x2="81.5" y2="353" stroke="#000" stroke-width="1"/>
<line x1="78.2" y1="305.7" x2="81.5" y2="305.7" stroke="#000" stroke-width="1.2"/>
<text x="75.2" y="307.7" font-size="5.8" text-anchor="end" font-weight="normal" font-style="normal" fill="#1a1a1a" stroke="#1a1a1a" stroke-width="0.04" >2</text>
<line x1="78.2" y1="329.1" x2="81.5" y2="329.1" stroke="#000" stroke-width="1.2"/>
<text x="75.2" y="331.1" font-size="5.8" text-anchor="end" font-weight="normal" font-style="normal" fill="#1a1a1a" stroke="#1a1a1a" stroke-width="0.04" >1</text>
<line x1="78.2" y1="352.4" x2="81.5" y2="352.4" stroke="#000" stroke-width="1.2"/>
<text x="75.2" y="354.4" font-size="5.8" text-anchor="end" font-weight="normal" font-style="normal" fill="#1a1a1a" stroke="#1a1a1a" stroke-width="0.04" >0</text>
<text class="k" transform="translate(66.2,328.6) rotate(-90)" font-size="7.8" text-anchor="middle" textLength="12.6" lengthAdjust="spacingAndGlyphs" fill="#1a1a1a">Bits</text>
<path transform="translate(82.90,305.80) scale(9.900,46.400)" d="M0,1 L0.31,0 L0.69,0 L1,1 L0.66,1 L0.61,0.745 L0.39,0.745 L0.34,1 Z M0.425,0.66 L0.5,0.17 L0.575,0.66 Z" fill="#B8102F" fill-rule="evenodd"/>
<path transform="translate(92.60,305.80) scale(11.200,46.400)" d="M0.9455,0.2730 A0.5,0.5 0 1 0 0.9373,0.7424 L0.5901,0.7122 A0.11,0.37 0 1 1 0.5923,0.2985 Z" fill="#2A3C86" fill-rule="evenodd"/>
<path transform="translate(103.20,305.80) scale(11.200,46.400)" d="M0.9455,0.2730 A0.5,0.5 0 1 0 0.9373,0.7424 L0.5901,0.7122 A0.11,0.37 0 1 1 0.5923,0.2985 Z" fill="#2A3C86" fill-rule="evenodd"/>
<path transform="translate(114.40,326.00) scale(10.600,18.800)" d="M0,1 L0.31,0 L0.69,0 L1,1 L0.66,1 L0.61,0.745 L0.39,0.745 L0.34,1 Z M0.425,0.66 L0.5,0.17 L0.575,0.66 Z" fill="#B8102F" fill-rule="evenodd"/>
<text transform="translate(115.0,352.0) scale(1.2339,0.9497)" font-size="10.0" font-weight="bold" fill="#E3A322">G</text>
<path transform="translate(124.60,305.80) scale(11.200,46.400)" d="M0.9455,0.2730 A0.5,0.5 0 1 0 0.9373,0.7424 L0.5901,0.7122 A0.11,0.37 0 1 1 0.5923,0.2985 Z" fill="#2A3C86" fill-rule="evenodd"/>
<path transform="translate(135.40,306.00) scale(10.600,46.200)" d="M0,1 L0.31,0 L0.69,0 L1,1 L0.66,1 L0.61,0.745 L0.39,0.745 L0.34,1 Z M0.425,0.66 L0.5,0.17 L0.575,0.66 Z" fill="#B8102F" fill-rule="evenodd"/>
<text transform="translate(147.4,344.6) scale(0.9769,0.6844)" font-size="10.0" font-weight="bold" fill="#E3A322">G</text>
<path transform="translate(147.40,344.80) scale(7.600,4.800)" d="M0,1 L0.31,0 L0.69,0 L1,1 L0.66,1 L0.61,0.745 L0.39,0.745 L0.34,1 Z M0.425,0.66 L0.5,0.17 L0.575,0.66 Z" fill="#B8102F" fill-rule="evenodd"/>
<path transform="translate(148.50,349.80) scale(5.500,2.000)" d="M0.9455,0.2730 A0.5,0.5 0 1 0 0.9373,0.7424 L0.5901,0.7122 A0.11,0.37 0 1 1 0.5923,0.2985 Z" fill="#3EA03E" fill-rule="evenodd"/>
<text x="88.2" y="358.8" font-size="6.0" text-anchor="middle" font-weight="normal" font-style="normal" fill="#1a1a1a" stroke="#1a1a1a" stroke-width="0.04" >1</text>
<text x="98.6" y="358.8" font-size="6.0" text-anchor="middle" font-weight="normal" font-style="normal" fill="#1a1a1a" stroke="#1a1a1a" stroke-width="0.04" >2</text>
<text x="109.6" y="358.8" font-size="6.0" text-anchor="middle" font-weight="normal" font-style="normal" fill="#1a1a1a" stroke="#1a1a1a" stroke-width="0.04" >3</text>
<text x="120.2" y="358.8" font-size="6.0" text-anchor="middle" font-weight="normal" font-style="normal" fill="#1a1a1a" stroke="#1a1a1a" stroke-width="0.04" >4</text>
<text x="130.7" y="358.8" font-size="6.0" text-anchor="middle" font-weight="normal" font-style="normal" fill="#1a1a1a" stroke="#1a1a1a" stroke-width="0.04" >5</text>
<text x="141.2" y="358.8" font-size="6.0" text-anchor="middle" font-weight="normal" font-style="normal" fill="#1a1a1a" stroke="#1a1a1a" stroke-width="0.04" >6</text>
<text x="152.0" y="358.8" font-size="6.0" text-anchor="middle" font-weight="normal" font-style="normal" fill="#1a1a1a" stroke="#1a1a1a" stroke-width="0.04" >7</text>
<text x="120.5" y="369.4" font-size="7.3" text-anchor="middle" font-weight="normal" font-style="normal" fill="#1a1a1a" stroke="#1a1a1a" stroke-width="0.28" >ACCRCAD</text>
<text class="k" x="120.5" y="379.7" font-size="7.7" text-anchor="middle" fill="#1a1a1a">(E = 6.2e<tspan font-size="5.2" dy="-3">-457</tspan><tspan dy="3">)</tspan></text>
<rect x="382.8" y="242.80" width="105.8" height="4.8" fill="#A80529" stroke="#7a0020" stroke-width="0.5"/>
<text x="379" y="244.00" font-size="5.5" text-anchor="end" font-weight="normal" font-style="normal" fill="#1a1a1a" stroke="#1a1a1a" stroke-width="0.04" >positive regulation of transcription</text>
<text x="379" y="250.70" font-size="5.5" text-anchor="end" font-weight="normal" font-style="normal" fill="#1a1a1a" stroke="#1a1a1a" stroke-width="0.04" >from RNA polymerase II promoter</text>
<rect x="382.8" y="257.67" width="81.3" height="4.8" fill="#A80529" stroke="#7a0020" stroke-width="0.5"/>
<text x="379" y="258.87" font-size="5.5" text-anchor="end" font-weight="normal" font-style="normal" fill="#1a1a1a" stroke="#1a1a1a" stroke-width="0.04" >negative regulation of transcription</text>
<text x="379" y="265.57" font-size="5.5" text-anchor="end" font-weight="normal" font-style="normal" fill="#1a1a1a" stroke="#1a1a1a" stroke-width="0.04" >from RNA polymerase II promoter</text>
<rect x="382.8" y="272.54" width="66.3" height="4.8" fill="#A80529" stroke="#7a0020" stroke-width="0.5"/>
<text x="379" y="276.94" font-size="5.5" text-anchor="end" font-weight="normal" font-style="normal" fill="#1a1a1a" stroke="#1a1a1a" stroke-width="0.04" >apoptotic process</text>
<rect x="382.8" y="287.41" width="61.7" height="4.8" fill="#A80529" stroke="#7a0020" stroke-width="0.5"/>
<text x="379" y="288.61" font-size="5.5" text-anchor="end" font-weight="normal" font-style="normal" fill="#1a1a1a" stroke="#1a1a1a" stroke-width="0.04" >G-protein coupled receptor signaling</text>
<text x="379" y="295.31" font-size="5.5" text-anchor="end" font-weight="normal" font-style="normal" fill="#1a1a1a" stroke="#1a1a1a" stroke-width="0.04" >pathway</text>
<rect x="382.8" y="302.28" width="57.4" height="4.8" fill="#A80529" stroke="#7a0020" stroke-width="0.5"/>
<text x="379" y="303.48" font-size="5.5" text-anchor="end" font-weight="normal" font-style="normal" fill="#1a1a1a" stroke="#1a1a1a" stroke-width="0.04" >positive regulation of apoptotic</text>
<text x="379" y="310.18" font-size="5.5" text-anchor="end" font-weight="normal" font-style="normal" fill="#1a1a1a" stroke="#1a1a1a" stroke-width="0.04" >process</text>
<rect x="382.8" y="317.15" width="47.7" height="4.8" fill="#A80529" stroke="#7a0020" stroke-width="0.5"/>
<text x="379" y="321.55" font-size="5.5" text-anchor="end" font-weight="normal" font-style="normal" fill="#1a1a1a" stroke="#1a1a1a" stroke-width="0.04" >positive regulation of GTPase activity</text>
<rect x="382.8" y="332.02" width="44.9" height="4.8" fill="#A80529" stroke="#7a0020" stroke-width="0.5"/>
<text x="379" y="336.42" font-size="5.5" text-anchor="end" font-weight="normal" font-style="normal" fill="#1a1a1a" stroke="#1a1a1a" stroke-width="0.04" >regulation of organelle organization</text>
<rect x="382.8" y="346.89" width="43.4" height="4.8" fill="#A80529" stroke="#7a0020" stroke-width="0.5"/>
<text x="379" y="351.29" font-size="5.5" text-anchor="end" font-weight="normal" font-style="normal" fill="#1a1a1a" stroke="#1a1a1a" stroke-width="0.04" >regulation of cell proliferation</text>
<rect x="382.8" y="361.76" width="41.7" height="4.8" fill="#A80529" stroke="#7a0020" stroke-width="0.5"/>
<text x="379" y="366.16" font-size="5.5" text-anchor="end" font-weight="normal" font-style="normal" fill="#1a1a1a" stroke="#1a1a1a" stroke-width="0.04" >chromatin organization</text>
<rect x="382.8" y="376.63" width="40.2" height="4.8" fill="#A80529" stroke="#7a0020" stroke-width="0.5"/>
<text x="379" y="381.03" font-size="5.5" text-anchor="end" font-weight="normal" font-style="normal" fill="#1a1a1a" stroke="#1a1a1a" stroke-width="0.04" >hemopoiesis</text>
<line x1="382.5" y1="238" x2="382.5" y2="386.9" stroke="#000" stroke-width="1"/>
<line x1="382" y1="386.5" x2="508.3" y2="386.5" stroke="#000" stroke-width="1"/>
<line x1="382.50" y1="386.5" x2="382.50" y2="388.8" stroke="#000" stroke-width="0.9"/>
<text x="382.50" y="398.1" font-size="6.3" text-anchor="middle" font-weight="normal" font-style="normal" fill="#1a1a1a" stroke="#1a1a1a" stroke-width="0.04" >0</text>
<line x1="400.40" y1="386.5" x2="400.40" y2="388.8" stroke="#000" stroke-width="0.9"/>
<text x="400.40" y="398.1" font-size="6.3" text-anchor="middle" font-weight="normal" font-style="normal" fill="#1a1a1a" stroke="#1a1a1a" stroke-width="0.04" >2</text>
<line x1="418.30" y1="386.5" x2="418.30" y2="388.8" stroke="#000" stroke-width="0.9"/>
<text x="418.30" y="398.1" font-size="6.3" text-anchor="middle" font-weight="normal" font-style="normal" fill="#1a1a1a" stroke="#1a1a1a" stroke-width="0.04" >4</text>
<line x1="436.20" y1="386.5" x2="436.20" y2="388.8" stroke="#000" stroke-width="0.9"/>
<text x="436.20" y="398.1" font-size="6.3" text-anchor="middle" font-weight="normal" font-style="normal" fill="#1a1a1a" stroke="#1a1a1a" stroke-width="0.04" >6</text>
<line x1="454.10" y1="386.5" x2="454.10" y2="388.8" stroke="#000" stroke-width="0.9"/>
<text x="454.10" y="398.1" font-size="6.3" text-anchor="middle" font-weight="normal" font-style="normal" fill="#1a1a1a" stroke="#1a1a1a" stroke-width="0.04" >8</text>
<line x1="472.00" y1="386.5" x2="472.00" y2="388.8" stroke="#000" stroke-width="0.9"/>
<text x="472.00" y="398.1" font-size="6.3" text-anchor="middle" font-weight="normal" font-style="normal" fill="#1a1a1a" stroke="#1a1a1a" stroke-width="0.04" >10</text>
<line x1="489.90" y1="386.5" x2="489.90" y2="388.8" stroke="#000" stroke-width="0.9"/>
<text x="489.90" y="398.1" font-size="6.3" text-anchor="middle" font-weight="normal" font-style="normal" fill="#1a1a1a" stroke="#1a1a1a" stroke-width="0.04" >12</text>
<line x1="507.80" y1="386.5" x2="507.80" y2="388.8" stroke="#000" stroke-width="0.9"/>
<text x="507.80" y="398.1" font-size="6.3" text-anchor="middle" font-weight="normal" font-style="normal" fill="#1a1a1a" stroke="#1a1a1a" stroke-width="0.04" >14</text>
<text x="419.9" y="410.4" font-size="8.7" text-anchor="start" font-weight="normal" font-style="normal" fill="#1a1a1a" stroke="#1a1a1a" stroke-width="0.28" textLength="53.0" lengthAdjust="spacingAndGlyphs">-log10(p-value)</text>
</svg>
</body></html>
